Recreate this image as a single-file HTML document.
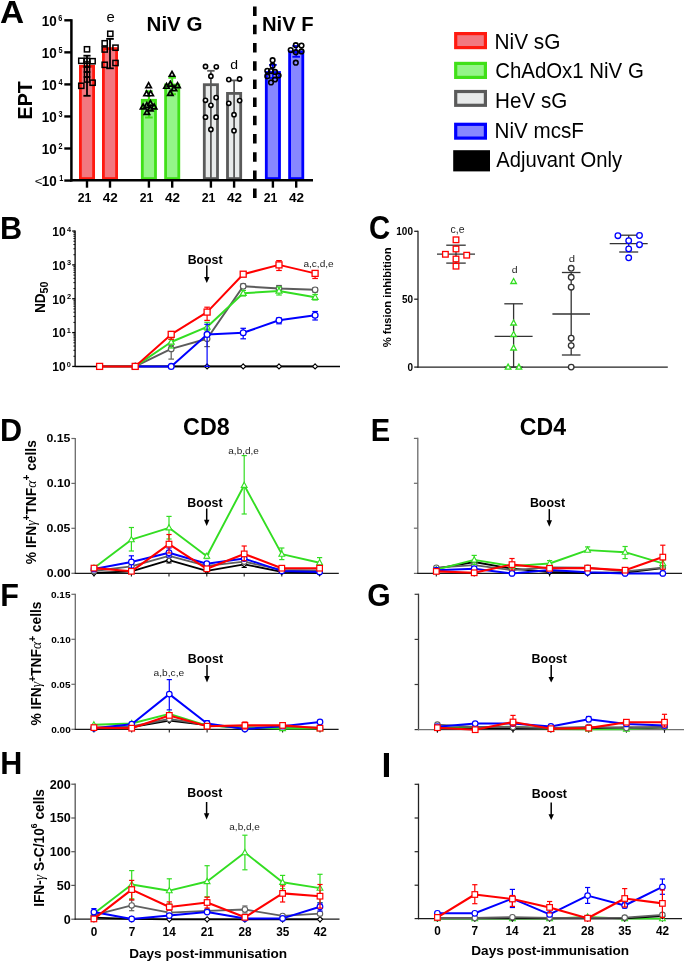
<!DOCTYPE html><html><head><meta charset="utf-8"><style>html,body{margin:0;padding:0;background:#fff;width:685px;height:962px;overflow:hidden}svg{display:block;will-change:transform}text{font-family:"Liberation Sans",sans-serif}</style></head><body>
<svg width="685" height="962" viewBox="0 0 685 962">
<rect width="685" height="962" fill="#fff"/>
<line x1="64.30" y1="20.30" x2="71.40" y2="20.30" stroke="#000" stroke-width="2.4"/>
<line x1="64.30" y1="52.35" x2="71.40" y2="52.35" stroke="#000" stroke-width="2.4"/>
<line x1="64.30" y1="84.40" x2="71.40" y2="84.40" stroke="#000" stroke-width="2.4"/>
<line x1="64.30" y1="116.45" x2="71.40" y2="116.45" stroke="#000" stroke-width="2.4"/>
<line x1="64.30" y1="148.50" x2="71.40" y2="148.50" stroke="#000" stroke-width="2.4"/>
<line x1="64.30" y1="180.55" x2="71.40" y2="180.55" stroke="#000" stroke-width="2.4"/>
<rect x="80.40" y="66.30" width="13.20" height="112.30" fill="#f27880" stroke="#ff1a10" stroke-width="2.8"/>
<rect x="103.40" y="48.60" width="13.20" height="130.00" fill="#f27880" stroke="#ff1a10" stroke-width="2.8"/>
<rect x="142.30" y="100.30" width="13.20" height="78.30" fill="#94f588" stroke="#40e018" stroke-width="2.8"/>
<rect x="165.60" y="85.00" width="13.20" height="93.60" fill="#94f588" stroke="#40e018" stroke-width="2.8"/>
<rect x="204.30" y="84.70" width="13.20" height="93.90" fill="#e8eaea" stroke="#5a5a5a" stroke-width="2.8"/>
<rect x="227.50" y="93.40" width="13.20" height="85.20" fill="#e8eaea" stroke="#5a5a5a" stroke-width="2.8"/>
<rect x="266.30" y="72.50" width="13.20" height="106.10" fill="#8787ff" stroke="#0000ff" stroke-width="2.8"/>
<rect x="289.60" y="51.80" width="13.20" height="126.80" fill="#8787ff" stroke="#0000ff" stroke-width="2.8"/>
<line x1="87.00" y1="55.70" x2="87.00" y2="95.80" stroke="#000" stroke-width="1.8"/>
<line x1="83.40" y1="55.70" x2="90.60" y2="55.70" stroke="#000" stroke-width="1.8"/>
<line x1="83.40" y1="95.80" x2="90.60" y2="95.80" stroke="#000" stroke-width="1.8"/>
<line x1="110.00" y1="38.90" x2="110.00" y2="68.30" stroke="#000" stroke-width="1.8"/>
<line x1="106.20" y1="38.90" x2="113.80" y2="38.90" stroke="#000" stroke-width="1.8"/>
<line x1="106.20" y1="68.30" x2="113.80" y2="68.30" stroke="#000" stroke-width="1.8"/>
<line x1="148.90" y1="91.30" x2="148.90" y2="117.50" stroke="#40e018" stroke-width="2.0"/>
<line x1="145.10" y1="91.30" x2="152.70" y2="91.30" stroke="#40e018" stroke-width="2.0"/>
<line x1="145.10" y1="117.50" x2="152.70" y2="117.50" stroke="#40e018" stroke-width="2.0"/>
<line x1="172.20" y1="77.70" x2="172.20" y2="94.20" stroke="#40e018" stroke-width="2.0"/>
<line x1="168.40" y1="77.70" x2="176.00" y2="77.70" stroke="#40e018" stroke-width="2.0"/>
<line x1="168.40" y1="94.20" x2="176.00" y2="94.20" stroke="#40e018" stroke-width="2.0"/>
<line x1="210.90" y1="70.80" x2="210.90" y2="180.00" stroke="#5a5a5a" stroke-width="1.8"/>
<line x1="207.20" y1="70.80" x2="214.60" y2="70.80" stroke="#5a5a5a" stroke-width="1.8"/>
<line x1="234.10" y1="80.40" x2="234.10" y2="180.00" stroke="#5a5a5a" stroke-width="1.8"/>
<line x1="230.40" y1="80.40" x2="237.80" y2="80.40" stroke="#5a5a5a" stroke-width="1.8"/>
<line x1="272.90" y1="64.90" x2="272.90" y2="78.00" stroke="#0000ff" stroke-width="1.8"/>
<line x1="269.10" y1="64.90" x2="276.70" y2="64.90" stroke="#0000ff" stroke-width="1.8"/>
<line x1="269.10" y1="78.00" x2="276.70" y2="78.00" stroke="#0000ff" stroke-width="1.8"/>
<line x1="296.20" y1="46.00" x2="296.20" y2="56.80" stroke="#0000ff" stroke-width="1.8"/>
<line x1="292.40" y1="46.00" x2="300.00" y2="46.00" stroke="#0000ff" stroke-width="1.8"/>
<line x1="292.40" y1="56.80" x2="300.00" y2="56.80" stroke="#0000ff" stroke-width="1.8"/>
<rect x="84.40" y="46.70" width="5.2" height="5.2" fill="none" stroke="#000" stroke-width="1.5"/>
<rect x="78.70" y="58.20" width="5.2" height="5.2" fill="none" stroke="#000" stroke-width="1.5"/>
<rect x="84.40" y="58.20" width="5.2" height="5.2" fill="none" stroke="#000" stroke-width="1.5"/>
<rect x="90.00" y="58.60" width="5.2" height="5.2" fill="none" stroke="#000" stroke-width="1.5"/>
<rect x="84.40" y="61.90" width="5.2" height="5.2" fill="none" stroke="#000" stroke-width="1.5"/>
<rect x="84.40" y="66.90" width="5.2" height="5.2" fill="none" stroke="#000" stroke-width="1.5"/>
<rect x="84.40" y="71.90" width="5.2" height="5.2" fill="none" stroke="#000" stroke-width="1.5"/>
<rect x="84.40" y="76.90" width="5.2" height="5.2" fill="none" stroke="#000" stroke-width="1.5"/>
<rect x="78.70" y="83.20" width="5.2" height="5.2" fill="none" stroke="#000" stroke-width="1.5"/>
<rect x="90.00" y="80.10" width="5.2" height="5.2" fill="none" stroke="#000" stroke-width="1.5"/>
<rect x="107.70" y="31.20" width="5.2" height="5.2" fill="none" stroke="#000" stroke-width="1.5"/>
<rect x="102.10" y="40.70" width="5.2" height="5.2" fill="none" stroke="#000" stroke-width="1.5"/>
<rect x="102.10" y="46.90" width="5.2" height="5.2" fill="none" stroke="#000" stroke-width="1.5"/>
<rect x="112.90" y="45.10" width="5.2" height="5.2" fill="none" stroke="#000" stroke-width="1.5"/>
<rect x="102.10" y="62.20" width="5.2" height="5.2" fill="none" stroke="#000" stroke-width="1.5"/>
<rect x="112.90" y="60.40" width="5.2" height="5.2" fill="none" stroke="#000" stroke-width="1.5"/>
<polygon points="148.60,82.68 151.30,87.54 145.90,87.54" fill="none" stroke="#000" stroke-width="1.7" stroke-linejoin="miter"/>
<polygon points="146.60,90.88 149.30,95.74 143.90,95.74" fill="none" stroke="#000" stroke-width="1.7" stroke-linejoin="miter"/>
<polygon points="150.70,90.88 153.40,95.74 148.00,95.74" fill="none" stroke="#000" stroke-width="1.7" stroke-linejoin="miter"/>
<polygon points="143.10,103.98 145.80,108.84 140.40,108.84" fill="none" stroke="#000" stroke-width="1.7" stroke-linejoin="miter"/>
<polygon points="146.90,102.58 149.60,107.44 144.20,107.44" fill="none" stroke="#000" stroke-width="1.7" stroke-linejoin="miter"/>
<polygon points="150.40,100.48 153.10,105.34 147.70,105.34" fill="none" stroke="#000" stroke-width="1.7" stroke-linejoin="miter"/>
<polygon points="154.10,103.98 156.80,108.84 151.40,108.84" fill="none" stroke="#000" stroke-width="1.7" stroke-linejoin="miter"/>
<polygon points="150.40,105.98 153.10,110.84 147.70,110.84" fill="none" stroke="#000" stroke-width="1.7" stroke-linejoin="miter"/>
<polygon points="146.90,109.48 149.60,114.34 144.20,114.34" fill="none" stroke="#000" stroke-width="1.7" stroke-linejoin="miter"/>
<polygon points="172.00,71.38 174.70,76.24 169.30,76.24" fill="none" stroke="#000" stroke-width="1.7" stroke-linejoin="miter"/>
<polygon points="166.50,83.38 169.20,88.24 163.80,88.24" fill="none" stroke="#000" stroke-width="1.7" stroke-linejoin="miter"/>
<polygon points="170.30,81.28 173.00,86.14 167.60,86.14" fill="none" stroke="#000" stroke-width="1.7" stroke-linejoin="miter"/>
<polygon points="177.50,82.68 180.20,87.54 174.80,87.54" fill="none" stroke="#000" stroke-width="1.7" stroke-linejoin="miter"/>
<polygon points="174.00,85.78 176.70,90.64 171.30,90.64" fill="none" stroke="#000" stroke-width="1.7" stroke-linejoin="miter"/>
<polygon points="170.30,90.58 173.00,95.44 167.60,95.44" fill="none" stroke="#000" stroke-width="1.7" stroke-linejoin="miter"/>
<circle cx="205.50" cy="66.50" r="2.1" fill="#fff" stroke="#000" stroke-width="1.6"/>
<circle cx="216.30" cy="66.80" r="2.1" fill="#fff" stroke="#000" stroke-width="1.6"/>
<circle cx="210.90" cy="76.20" r="2.1" fill="#fff" stroke="#000" stroke-width="1.6"/>
<circle cx="205.50" cy="100.30" r="2.1" fill="#fff" stroke="#000" stroke-width="1.6"/>
<circle cx="216.10" cy="97.60" r="2.1" fill="#fff" stroke="#000" stroke-width="1.6"/>
<circle cx="210.90" cy="105.30" r="2.1" fill="#fff" stroke="#000" stroke-width="1.6"/>
<circle cx="205.50" cy="117.20" r="2.1" fill="#fff" stroke="#000" stroke-width="1.6"/>
<circle cx="216.10" cy="117.20" r="2.1" fill="#fff" stroke="#000" stroke-width="1.6"/>
<circle cx="210.90" cy="129.50" r="2.1" fill="#fff" stroke="#000" stroke-width="1.6"/>
<circle cx="228.80" cy="79.60" r="2.1" fill="#fff" stroke="#000" stroke-width="1.6"/>
<circle cx="239.60" cy="79.00" r="2.1" fill="#fff" stroke="#000" stroke-width="1.6"/>
<circle cx="228.80" cy="103.30" r="2.1" fill="#fff" stroke="#000" stroke-width="1.6"/>
<circle cx="239.60" cy="100.60" r="2.1" fill="#fff" stroke="#000" stroke-width="1.6"/>
<circle cx="234.00" cy="114.70" r="2.1" fill="#fff" stroke="#000" stroke-width="1.6"/>
<circle cx="234.00" cy="130.70" r="2.1" fill="#fff" stroke="#000" stroke-width="1.6"/>
<circle cx="272.60" cy="60.20" r="2.3" fill="none" stroke="#000" stroke-width="1.6"/>
<circle cx="272.60" cy="65.70" r="2.3" fill="none" stroke="#000" stroke-width="1.6"/>
<circle cx="267.30" cy="70.80" r="2.3" fill="none" stroke="#000" stroke-width="1.6"/>
<circle cx="271.00" cy="71.10" r="2.3" fill="none" stroke="#000" stroke-width="1.6"/>
<circle cx="275.00" cy="71.90" r="2.3" fill="none" stroke="#000" stroke-width="1.6"/>
<circle cx="267.30" cy="76.20" r="2.3" fill="none" stroke="#000" stroke-width="1.6"/>
<circle cx="278.60" cy="75.50" r="2.3" fill="none" stroke="#000" stroke-width="1.6"/>
<circle cx="275.00" cy="79.50" r="2.3" fill="none" stroke="#000" stroke-width="1.6"/>
<circle cx="271.00" cy="82.40" r="2.3" fill="none" stroke="#000" stroke-width="1.6"/>
<circle cx="295.80" cy="45.20" r="2.3" fill="none" stroke="#000" stroke-width="1.6"/>
<circle cx="301.50" cy="45.60" r="2.3" fill="none" stroke="#000" stroke-width="1.6"/>
<circle cx="290.70" cy="50.00" r="2.3" fill="none" stroke="#000" stroke-width="1.6"/>
<circle cx="295.80" cy="52.20" r="2.3" fill="none" stroke="#000" stroke-width="1.6"/>
<circle cx="301.50" cy="51.40" r="2.3" fill="none" stroke="#000" stroke-width="1.6"/>
<circle cx="295.80" cy="62.70" r="2.3" fill="none" stroke="#000" stroke-width="1.6"/>
<line x1="71.40" y1="19.20" x2="71.40" y2="181.50" stroke="#000" stroke-width="2.5"/>
<line x1="70.20" y1="180.20" x2="313.00" y2="180.20" stroke="#000" stroke-width="2.4"/>
<line x1="87.00" y1="180.00" x2="87.00" y2="187.70" stroke="#000" stroke-width="2.4"/>
<line x1="110.00" y1="180.00" x2="110.00" y2="187.70" stroke="#000" stroke-width="2.4"/>
<line x1="148.90" y1="180.00" x2="148.90" y2="187.70" stroke="#000" stroke-width="2.4"/>
<line x1="172.20" y1="180.00" x2="172.20" y2="187.70" stroke="#000" stroke-width="2.4"/>
<line x1="210.90" y1="180.00" x2="210.90" y2="187.70" stroke="#000" stroke-width="2.4"/>
<line x1="234.10" y1="180.00" x2="234.10" y2="187.70" stroke="#000" stroke-width="2.4"/>
<line x1="272.90" y1="180.00" x2="272.90" y2="187.70" stroke="#000" stroke-width="2.4"/>
<line x1="296.20" y1="180.00" x2="296.20" y2="187.70" stroke="#000" stroke-width="2.4"/>
<line x1="254.8" y1="5" x2="254.8" y2="198" stroke="#000" stroke-width="3.6" stroke-dasharray="9.5 8.7" stroke-dashoffset="-1.6"/>
<rect x="455.70" y="33.60" width="29.70" height="14.00" fill="#f27880" stroke="#ff1a10" stroke-width="3.2"/>
<rect x="455.70" y="63.40" width="29.70" height="14.00" fill="#94f588" stroke="#40e018" stroke-width="3.2"/>
<rect x="455.70" y="91.50" width="29.70" height="13.80" fill="#e8eaea" stroke="#5a5a5a" stroke-width="3.2"/>
<rect x="455.70" y="124.30" width="29.70" height="13.80" fill="#8787ff" stroke="#0000ff" stroke-width="3.2"/>
<rect x="453.20" y="150.20" width="36.80" height="21.20" fill="#000"/>
<line x1="75.10" y1="230.40" x2="75.10" y2="367.00" stroke="#000" stroke-width="1.3"/>
<line x1="72.20" y1="231.05" x2="75.10" y2="231.05" stroke="#000" stroke-width="1.3"/>
<line x1="73.40" y1="254.71" x2="75.10" y2="254.71" stroke="#000" stroke-width="0.9"/>
<line x1="73.40" y1="248.75" x2="75.10" y2="248.75" stroke="#000" stroke-width="0.9"/>
<line x1="73.40" y1="244.52" x2="75.10" y2="244.52" stroke="#000" stroke-width="0.9"/>
<line x1="73.40" y1="241.24" x2="75.10" y2="241.24" stroke="#000" stroke-width="0.9"/>
<line x1="73.40" y1="238.56" x2="75.10" y2="238.56" stroke="#000" stroke-width="0.9"/>
<line x1="73.40" y1="236.29" x2="75.10" y2="236.29" stroke="#000" stroke-width="0.9"/>
<line x1="73.40" y1="234.33" x2="75.10" y2="234.33" stroke="#000" stroke-width="0.9"/>
<line x1="73.40" y1="232.60" x2="75.10" y2="232.60" stroke="#000" stroke-width="0.9"/>
<line x1="72.20" y1="264.90" x2="75.10" y2="264.90" stroke="#000" stroke-width="1.3"/>
<line x1="73.40" y1="288.56" x2="75.10" y2="288.56" stroke="#000" stroke-width="0.9"/>
<line x1="73.40" y1="282.60" x2="75.10" y2="282.60" stroke="#000" stroke-width="0.9"/>
<line x1="73.40" y1="278.37" x2="75.10" y2="278.37" stroke="#000" stroke-width="0.9"/>
<line x1="73.40" y1="275.09" x2="75.10" y2="275.09" stroke="#000" stroke-width="0.9"/>
<line x1="73.40" y1="272.41" x2="75.10" y2="272.41" stroke="#000" stroke-width="0.9"/>
<line x1="73.40" y1="270.14" x2="75.10" y2="270.14" stroke="#000" stroke-width="0.9"/>
<line x1="73.40" y1="268.18" x2="75.10" y2="268.18" stroke="#000" stroke-width="0.9"/>
<line x1="73.40" y1="266.45" x2="75.10" y2="266.45" stroke="#000" stroke-width="0.9"/>
<line x1="72.20" y1="298.75" x2="75.10" y2="298.75" stroke="#000" stroke-width="1.3"/>
<line x1="73.40" y1="322.41" x2="75.10" y2="322.41" stroke="#000" stroke-width="0.9"/>
<line x1="73.40" y1="316.45" x2="75.10" y2="316.45" stroke="#000" stroke-width="0.9"/>
<line x1="73.40" y1="312.22" x2="75.10" y2="312.22" stroke="#000" stroke-width="0.9"/>
<line x1="73.40" y1="308.94" x2="75.10" y2="308.94" stroke="#000" stroke-width="0.9"/>
<line x1="73.40" y1="306.26" x2="75.10" y2="306.26" stroke="#000" stroke-width="0.9"/>
<line x1="73.40" y1="303.99" x2="75.10" y2="303.99" stroke="#000" stroke-width="0.9"/>
<line x1="73.40" y1="302.03" x2="75.10" y2="302.03" stroke="#000" stroke-width="0.9"/>
<line x1="73.40" y1="300.30" x2="75.10" y2="300.30" stroke="#000" stroke-width="0.9"/>
<line x1="72.20" y1="332.60" x2="75.10" y2="332.60" stroke="#000" stroke-width="1.3"/>
<line x1="73.40" y1="356.26" x2="75.10" y2="356.26" stroke="#000" stroke-width="0.9"/>
<line x1="73.40" y1="350.30" x2="75.10" y2="350.30" stroke="#000" stroke-width="0.9"/>
<line x1="73.40" y1="346.07" x2="75.10" y2="346.07" stroke="#000" stroke-width="0.9"/>
<line x1="73.40" y1="342.79" x2="75.10" y2="342.79" stroke="#000" stroke-width="0.9"/>
<line x1="73.40" y1="340.11" x2="75.10" y2="340.11" stroke="#000" stroke-width="0.9"/>
<line x1="73.40" y1="337.84" x2="75.10" y2="337.84" stroke="#000" stroke-width="0.9"/>
<line x1="73.40" y1="335.88" x2="75.10" y2="335.88" stroke="#000" stroke-width="0.9"/>
<line x1="73.40" y1="334.15" x2="75.10" y2="334.15" stroke="#000" stroke-width="0.9"/>
<line x1="72.20" y1="366.45" x2="75.10" y2="366.45" stroke="#000" stroke-width="1.3"/>
<line x1="75.10" y1="366.40" x2="340.00" y2="366.40" stroke="#000" stroke-width="1.5"/>
<polyline points="99.60,366.40 135.20,366.40 171.20,366.40 207.10,366.40 243.20,366.40 279.00,366.40 315.10,366.40" fill="none" stroke="#000000" stroke-width="1.6" stroke-linejoin="round"/>
<polygon points="207.10,363.90 209.60,366.40 207.10,368.90 204.60,366.40" fill="#fff" stroke="#000000" stroke-width="1.1"/>
<polygon points="243.20,363.90 245.70,366.40 243.20,368.90 240.70,366.40" fill="#fff" stroke="#000000" stroke-width="1.1"/>
<polygon points="279.00,363.90 281.50,366.40 279.00,368.90 276.50,366.40" fill="#fff" stroke="#000000" stroke-width="1.1"/>
<polygon points="315.10,363.90 317.60,366.40 315.10,368.90 312.60,366.40" fill="#fff" stroke="#000000" stroke-width="1.1"/>
<polyline points="135.20,366.40 171.20,348.90 207.10,338.80 243.20,286.20 279.00,288.50 315.10,289.80" fill="none" stroke="#5c5c5c" stroke-width="2.0" stroke-linejoin="round"/>
<line x1="171.20" y1="345.30" x2="171.20" y2="359.10" stroke="#5c5c5c" stroke-width="1.2"/>
<line x1="168.40" y1="345.30" x2="174.00" y2="345.30" stroke="#5c5c5c" stroke-width="1.2"/>
<line x1="168.40" y1="359.10" x2="174.00" y2="359.10" stroke="#5c5c5c" stroke-width="1.2"/>
<line x1="207.10" y1="335.00" x2="207.10" y2="346.60" stroke="#5c5c5c" stroke-width="1.2"/>
<line x1="204.30" y1="335.00" x2="209.90" y2="335.00" stroke="#5c5c5c" stroke-width="1.2"/>
<line x1="204.30" y1="346.60" x2="209.90" y2="346.60" stroke="#5c5c5c" stroke-width="1.2"/>
<line x1="243.20" y1="284.00" x2="243.20" y2="288.50" stroke="#5c5c5c" stroke-width="1.2"/>
<line x1="240.40" y1="284.00" x2="246.00" y2="284.00" stroke="#5c5c5c" stroke-width="1.2"/>
<line x1="240.40" y1="288.50" x2="246.00" y2="288.50" stroke="#5c5c5c" stroke-width="1.2"/>
<line x1="279.00" y1="285.50" x2="279.00" y2="291.00" stroke="#5c5c5c" stroke-width="1.2"/>
<line x1="276.20" y1="285.50" x2="281.80" y2="285.50" stroke="#5c5c5c" stroke-width="1.2"/>
<line x1="276.20" y1="291.00" x2="281.80" y2="291.00" stroke="#5c5c5c" stroke-width="1.2"/>
<line x1="315.10" y1="288.00" x2="315.10" y2="292.00" stroke="#5c5c5c" stroke-width="1.2"/>
<line x1="312.30" y1="288.00" x2="317.90" y2="288.00" stroke="#5c5c5c" stroke-width="1.2"/>
<line x1="312.30" y1="292.00" x2="317.90" y2="292.00" stroke="#5c5c5c" stroke-width="1.2"/>
<circle cx="135.20" cy="366.40" r="2.8" fill="#fff" stroke="#5c5c5c" stroke-width="1.2"/>
<circle cx="171.20" cy="348.90" r="2.8" fill="#fff" stroke="#5c5c5c" stroke-width="1.2"/>
<circle cx="207.10" cy="338.80" r="2.8" fill="#fff" stroke="#5c5c5c" stroke-width="1.2"/>
<circle cx="243.20" cy="286.20" r="2.8" fill="#fff" stroke="#5c5c5c" stroke-width="1.2"/>
<circle cx="279.00" cy="288.50" r="2.8" fill="#fff" stroke="#5c5c5c" stroke-width="1.2"/>
<circle cx="315.10" cy="289.80" r="2.8" fill="#fff" stroke="#5c5c5c" stroke-width="1.2"/>
<polyline points="135.20,366.40 171.20,342.00 207.10,326.90 243.20,293.30 279.00,291.00 315.10,297.30" fill="none" stroke="#33dd22" stroke-width="2.0" stroke-linejoin="round"/>
<line x1="171.20" y1="339.40" x2="171.20" y2="348.00" stroke="#33dd22" stroke-width="1.2"/>
<line x1="168.40" y1="339.40" x2="174.00" y2="339.40" stroke="#33dd22" stroke-width="1.2"/>
<line x1="168.40" y1="348.00" x2="174.00" y2="348.00" stroke="#33dd22" stroke-width="1.2"/>
<line x1="207.10" y1="322.30" x2="207.10" y2="330.20" stroke="#33dd22" stroke-width="1.2"/>
<line x1="204.30" y1="322.30" x2="209.90" y2="322.30" stroke="#33dd22" stroke-width="1.2"/>
<line x1="204.30" y1="330.20" x2="209.90" y2="330.20" stroke="#33dd22" stroke-width="1.2"/>
<line x1="243.20" y1="290.50" x2="243.20" y2="296.00" stroke="#33dd22" stroke-width="1.2"/>
<line x1="240.40" y1="290.50" x2="246.00" y2="290.50" stroke="#33dd22" stroke-width="1.2"/>
<line x1="240.40" y1="296.00" x2="246.00" y2="296.00" stroke="#33dd22" stroke-width="1.2"/>
<line x1="279.00" y1="287.00" x2="279.00" y2="295.00" stroke="#33dd22" stroke-width="1.2"/>
<line x1="276.20" y1="287.00" x2="281.80" y2="287.00" stroke="#33dd22" stroke-width="1.2"/>
<line x1="276.20" y1="295.00" x2="281.80" y2="295.00" stroke="#33dd22" stroke-width="1.2"/>
<line x1="315.10" y1="294.50" x2="315.10" y2="300.00" stroke="#33dd22" stroke-width="1.2"/>
<line x1="312.30" y1="294.50" x2="317.90" y2="294.50" stroke="#33dd22" stroke-width="1.2"/>
<line x1="312.30" y1="300.00" x2="317.90" y2="300.00" stroke="#33dd22" stroke-width="1.2"/>
<polygon points="135.20,363.16 138.20,368.56 132.20,368.56" fill="#fff" stroke="#33dd22" stroke-width="1.2" stroke-linejoin="miter"/>
<polygon points="171.20,338.76 174.20,344.16 168.20,344.16" fill="#fff" stroke="#33dd22" stroke-width="1.2" stroke-linejoin="miter"/>
<polygon points="207.10,323.66 210.10,329.06 204.10,329.06" fill="#fff" stroke="#33dd22" stroke-width="1.2" stroke-linejoin="miter"/>
<polygon points="243.20,290.06 246.20,295.46 240.20,295.46" fill="#fff" stroke="#33dd22" stroke-width="1.2" stroke-linejoin="miter"/>
<polygon points="279.00,287.76 282.00,293.16 276.00,293.16" fill="#fff" stroke="#33dd22" stroke-width="1.2" stroke-linejoin="miter"/>
<polygon points="315.10,294.06 318.10,299.46 312.10,299.46" fill="#fff" stroke="#33dd22" stroke-width="1.2" stroke-linejoin="miter"/>
<polyline points="135.20,366.40 171.20,366.40 207.10,334.40 243.20,332.80 279.00,320.30 315.10,315.20" fill="none" stroke="#0000ff" stroke-width="2.0" stroke-linejoin="round"/>
<line x1="207.10" y1="324.30" x2="207.10" y2="366.40" stroke="#0000ff" stroke-width="1.2"/>
<line x1="204.30" y1="324.30" x2="209.90" y2="324.30" stroke="#0000ff" stroke-width="1.2"/>
<line x1="204.30" y1="366.40" x2="209.90" y2="366.40" stroke="#0000ff" stroke-width="1.2"/>
<line x1="243.20" y1="328.30" x2="243.20" y2="338.80" stroke="#0000ff" stroke-width="1.2"/>
<line x1="240.40" y1="328.30" x2="246.00" y2="328.30" stroke="#0000ff" stroke-width="1.2"/>
<line x1="240.40" y1="338.80" x2="246.00" y2="338.80" stroke="#0000ff" stroke-width="1.2"/>
<line x1="279.00" y1="317.90" x2="279.00" y2="323.80" stroke="#0000ff" stroke-width="1.2"/>
<line x1="276.20" y1="317.90" x2="281.80" y2="317.90" stroke="#0000ff" stroke-width="1.2"/>
<line x1="276.20" y1="323.80" x2="281.80" y2="323.80" stroke="#0000ff" stroke-width="1.2"/>
<line x1="315.10" y1="311.50" x2="315.10" y2="320.00" stroke="#0000ff" stroke-width="1.2"/>
<line x1="312.30" y1="311.50" x2="317.90" y2="311.50" stroke="#0000ff" stroke-width="1.2"/>
<line x1="312.30" y1="320.00" x2="317.90" y2="320.00" stroke="#0000ff" stroke-width="1.2"/>
<circle cx="135.20" cy="366.40" r="2.9" fill="#fff" stroke="#0000ff" stroke-width="1.3"/>
<circle cx="171.20" cy="366.40" r="2.9" fill="#fff" stroke="#0000ff" stroke-width="1.3"/>
<circle cx="207.10" cy="334.40" r="2.9" fill="#fff" stroke="#0000ff" stroke-width="1.3"/>
<circle cx="243.20" cy="332.80" r="2.9" fill="#fff" stroke="#0000ff" stroke-width="1.3"/>
<circle cx="279.00" cy="320.30" r="2.9" fill="#fff" stroke="#0000ff" stroke-width="1.3"/>
<circle cx="315.10" cy="315.20" r="2.9" fill="#fff" stroke="#0000ff" stroke-width="1.3"/>
<polyline points="99.60,366.40 135.20,366.40 171.20,334.40 207.10,312.10 243.20,274.20 279.00,264.90 315.10,273.40" fill="none" stroke="#ff0000" stroke-width="2.0" stroke-linejoin="round"/>
<line x1="171.20" y1="331.50" x2="171.20" y2="339.20" stroke="#ff0000" stroke-width="1.2"/>
<line x1="168.40" y1="331.50" x2="174.00" y2="331.50" stroke="#ff0000" stroke-width="1.2"/>
<line x1="168.40" y1="339.20" x2="174.00" y2="339.20" stroke="#ff0000" stroke-width="1.2"/>
<line x1="207.10" y1="307.20" x2="207.10" y2="320.40" stroke="#ff0000" stroke-width="1.2"/>
<line x1="204.30" y1="307.20" x2="209.90" y2="307.20" stroke="#ff0000" stroke-width="1.2"/>
<line x1="204.30" y1="320.40" x2="209.90" y2="320.40" stroke="#ff0000" stroke-width="1.2"/>
<line x1="243.20" y1="272.00" x2="243.20" y2="276.50" stroke="#ff0000" stroke-width="1.2"/>
<line x1="240.40" y1="272.00" x2="246.00" y2="272.00" stroke="#ff0000" stroke-width="1.2"/>
<line x1="240.40" y1="276.50" x2="246.00" y2="276.50" stroke="#ff0000" stroke-width="1.2"/>
<line x1="279.00" y1="260.60" x2="279.00" y2="270.50" stroke="#ff0000" stroke-width="1.2"/>
<line x1="276.20" y1="260.60" x2="281.80" y2="260.60" stroke="#ff0000" stroke-width="1.2"/>
<line x1="276.20" y1="270.50" x2="281.80" y2="270.50" stroke="#ff0000" stroke-width="1.2"/>
<line x1="315.10" y1="271.50" x2="315.10" y2="278.50" stroke="#ff0000" stroke-width="1.2"/>
<line x1="312.30" y1="271.50" x2="317.90" y2="271.50" stroke="#ff0000" stroke-width="1.2"/>
<line x1="312.30" y1="278.50" x2="317.90" y2="278.50" stroke="#ff0000" stroke-width="1.2"/>
<rect x="96.60" y="363.40" width="6" height="6" fill="#fff" stroke="#ff0000" stroke-width="1.3"/>
<rect x="132.20" y="363.40" width="6" height="6" fill="#fff" stroke="#ff0000" stroke-width="1.3"/>
<rect x="168.20" y="331.40" width="6" height="6" fill="#fff" stroke="#ff0000" stroke-width="1.3"/>
<rect x="204.10" y="309.10" width="6" height="6" fill="#fff" stroke="#ff0000" stroke-width="1.3"/>
<rect x="240.20" y="271.20" width="6" height="6" fill="#fff" stroke="#ff0000" stroke-width="1.3"/>
<rect x="276.00" y="261.90" width="6" height="6" fill="#fff" stroke="#ff0000" stroke-width="1.3"/>
<rect x="312.10" y="270.40" width="6" height="6" fill="#fff" stroke="#ff0000" stroke-width="1.3"/>
<line x1="206.80" y1="265.40" x2="206.80" y2="278.00" stroke="#000" stroke-width="1.5"/>
<polygon points="204.10,277.00 209.50,277.00 206.80,283.10" fill="#000"/>
<line x1="418.00" y1="230.70" x2="418.00" y2="367.70" stroke="#222" stroke-width="1.3"/>
<line x1="417.40" y1="367.10" x2="667.80" y2="367.10" stroke="#222" stroke-width="1.3"/>
<line x1="414.20" y1="231.30" x2="418.00" y2="231.30" stroke="#222" stroke-width="1.3"/>
<line x1="414.20" y1="299.20" x2="418.00" y2="299.20" stroke="#222" stroke-width="1.3"/>
<line x1="414.20" y1="367.10" x2="418.00" y2="367.10" stroke="#222" stroke-width="1.3"/>
<line x1="437.00" y1="254.10" x2="475.00" y2="254.10" stroke="#333" stroke-width="1.3"/>
<line x1="446.25" y1="245.20" x2="465.75" y2="245.20" stroke="#333" stroke-width="1.3"/>
<line x1="446.25" y1="263.10" x2="465.75" y2="263.10" stroke="#333" stroke-width="1.3"/>
<line x1="456.00" y1="245.20" x2="456.00" y2="263.10" stroke="#333" stroke-width="1.3"/>
<rect x="453.20" y="237.00" width="5.6" height="5.6" fill="#fff" stroke="#ff0000" stroke-width="1.3"/>
<rect x="453.20" y="246.20" width="5.6" height="5.6" fill="#fff" stroke="#ff0000" stroke-width="1.3"/>
<rect x="442.60" y="251.50" width="5.6" height="5.6" fill="#fff" stroke="#ff0000" stroke-width="1.3"/>
<rect x="463.90" y="252.40" width="5.6" height="5.6" fill="#fff" stroke="#ff0000" stroke-width="1.3"/>
<rect x="453.20" y="256.20" width="5.6" height="5.6" fill="#fff" stroke="#ff0000" stroke-width="1.3"/>
<rect x="453.20" y="263.40" width="5.6" height="5.6" fill="#fff" stroke="#ff0000" stroke-width="1.3"/>
<line x1="494.60" y1="336.40" x2="532.60" y2="336.40" stroke="#333" stroke-width="1.3"/>
<line x1="504.30" y1="303.80" x2="522.90" y2="303.80" stroke="#333" stroke-width="1.3"/>
<line x1="504.30" y1="367.10" x2="522.90" y2="367.10" stroke="#333" stroke-width="1.3"/>
<line x1="513.60" y1="303.80" x2="513.60" y2="367.10" stroke="#333" stroke-width="1.3"/>
<polygon points="513.60,278.48 516.40,283.52 510.80,283.52" fill="#fff" stroke="#33dd22" stroke-width="1.3" stroke-linejoin="miter"/>
<polygon points="513.60,319.98 516.40,325.02 510.80,325.02" fill="#fff" stroke="#33dd22" stroke-width="1.3" stroke-linejoin="miter"/>
<polygon points="513.60,331.48 516.40,336.52 510.80,336.52" fill="#fff" stroke="#33dd22" stroke-width="1.3" stroke-linejoin="miter"/>
<polygon points="513.60,344.98 516.40,350.02 510.80,350.02" fill="#fff" stroke="#33dd22" stroke-width="1.3" stroke-linejoin="miter"/>
<polygon points="508.10,364.08 510.90,369.12 505.30,369.12" fill="#fff" stroke="#33dd22" stroke-width="1.3" stroke-linejoin="miter"/>
<polygon points="518.90,364.08 521.70,369.12 516.10,369.12" fill="#fff" stroke="#33dd22" stroke-width="1.3" stroke-linejoin="miter"/>
<line x1="552.40" y1="314.00" x2="590.00" y2="314.00" stroke="#333" stroke-width="1.3"/>
<line x1="561.90" y1="272.50" x2="580.50" y2="272.50" stroke="#333" stroke-width="1.3"/>
<line x1="561.90" y1="355.00" x2="580.50" y2="355.00" stroke="#333" stroke-width="1.3"/>
<line x1="571.20" y1="272.50" x2="571.20" y2="355.00" stroke="#333" stroke-width="1.3"/>
<circle cx="571.20" cy="268.30" r="2.8" fill="#fff" stroke="#333" stroke-width="1.3"/>
<circle cx="571.20" cy="277.30" r="2.8" fill="#fff" stroke="#333" stroke-width="1.3"/>
<circle cx="571.20" cy="287.20" r="2.8" fill="#fff" stroke="#333" stroke-width="1.3"/>
<circle cx="571.20" cy="338.20" r="2.8" fill="#fff" stroke="#333" stroke-width="1.3"/>
<circle cx="571.20" cy="345.60" r="2.8" fill="#fff" stroke="#333" stroke-width="1.3"/>
<circle cx="571.20" cy="367.10" r="2.8" fill="#fff" stroke="#333" stroke-width="1.3"/>
<line x1="609.70" y1="243.60" x2="647.70" y2="243.60" stroke="#333" stroke-width="1.3"/>
<line x1="619.20" y1="235.20" x2="638.20" y2="235.20" stroke="#333" stroke-width="1.3"/>
<line x1="619.20" y1="252.00" x2="638.20" y2="252.00" stroke="#333" stroke-width="1.3"/>
<line x1="628.70" y1="235.20" x2="628.70" y2="252.00" stroke="#333" stroke-width="1.3"/>
<circle cx="617.90" cy="235.70" r="2.8" fill="#fff" stroke="#0000ff" stroke-width="1.3"/>
<circle cx="639.50" cy="235.50" r="2.8" fill="#fff" stroke="#0000ff" stroke-width="1.3"/>
<circle cx="628.70" cy="240.70" r="2.8" fill="#fff" stroke="#0000ff" stroke-width="1.3"/>
<circle cx="639.50" cy="244.70" r="2.8" fill="#fff" stroke="#0000ff" stroke-width="1.3"/>
<circle cx="628.70" cy="248.90" r="2.8" fill="#fff" stroke="#0000ff" stroke-width="1.3"/>
<circle cx="628.70" cy="257.80" r="2.8" fill="#fff" stroke="#0000ff" stroke-width="1.3"/>
<line x1="75.30" y1="437.90" x2="75.30" y2="573.90" stroke="#6a6a6a" stroke-width="1.3"/>
<line x1="71.40" y1="438.50" x2="75.30" y2="438.50" stroke="#6a6a6a" stroke-width="1.2"/>
<line x1="71.40" y1="483.40" x2="75.30" y2="483.40" stroke="#6a6a6a" stroke-width="1.2"/>
<line x1="71.40" y1="528.30" x2="75.30" y2="528.30" stroke="#6a6a6a" stroke-width="1.2"/>
<line x1="71.40" y1="573.30" x2="75.30" y2="573.30" stroke="#6a6a6a" stroke-width="1.2"/>
<line x1="74.70" y1="573.30" x2="338.80" y2="573.30" stroke="#1a1a1a" stroke-width="1.3"/>
<line x1="94.00" y1="573.30" x2="94.00" y2="576.50" stroke="#1a1a1a" stroke-width="1.1"/>
<line x1="131.40" y1="573.30" x2="131.40" y2="576.50" stroke="#1a1a1a" stroke-width="1.1"/>
<line x1="169.00" y1="573.30" x2="169.00" y2="576.50" stroke="#1a1a1a" stroke-width="1.1"/>
<line x1="206.80" y1="573.30" x2="206.80" y2="576.50" stroke="#1a1a1a" stroke-width="1.1"/>
<line x1="244.20" y1="573.30" x2="244.20" y2="576.50" stroke="#1a1a1a" stroke-width="1.1"/>
<line x1="281.80" y1="573.30" x2="281.80" y2="576.50" stroke="#1a1a1a" stroke-width="1.1"/>
<line x1="319.60" y1="573.30" x2="319.60" y2="576.50" stroke="#1a1a1a" stroke-width="1.1"/>
<polyline points="94.00,573.00 131.40,571.30 169.00,560.20 206.80,570.90 244.20,564.30 281.80,571.90 319.60,572.90" fill="none" stroke="#000000" stroke-width="1.8" stroke-linejoin="round"/>
<line x1="169.00" y1="556.70" x2="169.00" y2="562.90" stroke="#000000" stroke-width="1.2"/>
<line x1="166.40" y1="556.70" x2="171.60" y2="556.70" stroke="#000000" stroke-width="1.2"/>
<line x1="166.40" y1="562.90" x2="171.60" y2="562.90" stroke="#000000" stroke-width="1.2"/>
<line x1="244.20" y1="562.30" x2="244.20" y2="567.40" stroke="#000000" stroke-width="1.2"/>
<line x1="241.60" y1="562.30" x2="246.80" y2="562.30" stroke="#000000" stroke-width="1.2"/>
<line x1="241.60" y1="567.40" x2="246.80" y2="567.40" stroke="#000000" stroke-width="1.2"/>
<polygon points="94.00,570.40 96.60,573.00 94.00,575.60 91.40,573.00" fill="#fff" stroke="#000000" stroke-width="1.1"/>
<polygon points="131.40,568.70 134.00,571.30 131.40,573.90 128.80,571.30" fill="#fff" stroke="#000000" stroke-width="1.1"/>
<polygon points="169.00,557.60 171.60,560.20 169.00,562.80 166.40,560.20" fill="#fff" stroke="#000000" stroke-width="1.1"/>
<polygon points="206.80,568.30 209.40,570.90 206.80,573.50 204.20,570.90" fill="#fff" stroke="#000000" stroke-width="1.1"/>
<polygon points="244.20,561.70 246.80,564.30 244.20,566.90 241.60,564.30" fill="#fff" stroke="#000000" stroke-width="1.1"/>
<polygon points="281.80,569.30 284.40,571.90 281.80,574.50 279.20,571.90" fill="#fff" stroke="#000000" stroke-width="1.1"/>
<polygon points="319.60,570.30 322.20,572.90 319.60,575.50 317.00,572.90" fill="#fff" stroke="#000000" stroke-width="1.1"/>
<polyline points="94.00,571.00 131.40,566.40 169.00,555.80 206.80,565.80 244.20,561.70 281.80,569.90 319.60,570.50" fill="none" stroke="#606060" stroke-width="1.8" stroke-linejoin="round"/>
<circle cx="94.00" cy="571.00" r="2.7" fill="#fff" stroke="#606060" stroke-width="1.1"/>
<circle cx="131.40" cy="566.40" r="2.7" fill="#fff" stroke="#606060" stroke-width="1.1"/>
<circle cx="169.00" cy="555.80" r="2.7" fill="#fff" stroke="#606060" stroke-width="1.1"/>
<circle cx="206.80" cy="565.80" r="2.7" fill="#fff" stroke="#606060" stroke-width="1.1"/>
<circle cx="244.20" cy="561.70" r="2.7" fill="#fff" stroke="#606060" stroke-width="1.1"/>
<circle cx="281.80" cy="569.90" r="2.7" fill="#fff" stroke="#606060" stroke-width="1.1"/>
<circle cx="319.60" cy="570.50" r="2.7" fill="#fff" stroke="#606060" stroke-width="1.1"/>
<polyline points="94.00,568.10 131.40,539.70 169.00,527.80 206.80,556.20 244.20,485.30 281.80,554.10 319.60,562.70" fill="none" stroke="#33dd22" stroke-width="1.9" stroke-linejoin="round"/>
<line x1="131.40" y1="527.50" x2="131.40" y2="551.00" stroke="#33dd22" stroke-width="1.2"/>
<line x1="128.80" y1="527.50" x2="134.00" y2="527.50" stroke="#33dd22" stroke-width="1.2"/>
<line x1="128.80" y1="551.00" x2="134.00" y2="551.00" stroke="#33dd22" stroke-width="1.2"/>
<line x1="169.00" y1="516.40" x2="169.00" y2="539.00" stroke="#33dd22" stroke-width="1.2"/>
<line x1="166.40" y1="516.40" x2="171.60" y2="516.40" stroke="#33dd22" stroke-width="1.2"/>
<line x1="166.40" y1="539.00" x2="171.60" y2="539.00" stroke="#33dd22" stroke-width="1.2"/>
<line x1="206.80" y1="554.10" x2="206.80" y2="558.60" stroke="#33dd22" stroke-width="1.2"/>
<line x1="204.20" y1="554.10" x2="209.40" y2="554.10" stroke="#33dd22" stroke-width="1.2"/>
<line x1="204.20" y1="558.60" x2="209.40" y2="558.60" stroke="#33dd22" stroke-width="1.2"/>
<line x1="244.20" y1="455.60" x2="244.20" y2="514.00" stroke="#33dd22" stroke-width="1.2"/>
<line x1="241.60" y1="455.60" x2="246.80" y2="455.60" stroke="#33dd22" stroke-width="1.2"/>
<line x1="241.60" y1="514.00" x2="246.80" y2="514.00" stroke="#33dd22" stroke-width="1.2"/>
<line x1="281.80" y1="548.00" x2="281.80" y2="559.60" stroke="#33dd22" stroke-width="1.2"/>
<line x1="279.20" y1="548.00" x2="284.40" y2="548.00" stroke="#33dd22" stroke-width="1.2"/>
<line x1="279.20" y1="559.60" x2="284.40" y2="559.60" stroke="#33dd22" stroke-width="1.2"/>
<line x1="319.60" y1="557.60" x2="319.60" y2="565.80" stroke="#33dd22" stroke-width="1.2"/>
<line x1="317.00" y1="557.60" x2="322.20" y2="557.60" stroke="#33dd22" stroke-width="1.2"/>
<line x1="317.00" y1="565.80" x2="322.20" y2="565.80" stroke="#33dd22" stroke-width="1.2"/>
<polygon points="94.00,564.97 96.90,570.19 91.10,570.19" fill="#fff" stroke="#33dd22" stroke-width="1.1" stroke-linejoin="miter"/>
<polygon points="131.40,536.57 134.30,541.79 128.50,541.79" fill="#fff" stroke="#33dd22" stroke-width="1.1" stroke-linejoin="miter"/>
<polygon points="169.00,524.67 171.90,529.89 166.10,529.89" fill="#fff" stroke="#33dd22" stroke-width="1.1" stroke-linejoin="miter"/>
<polygon points="206.80,553.07 209.70,558.29 203.90,558.29" fill="#fff" stroke="#33dd22" stroke-width="1.1" stroke-linejoin="miter"/>
<polygon points="244.20,482.17 247.10,487.39 241.30,487.39" fill="#fff" stroke="#33dd22" stroke-width="1.1" stroke-linejoin="miter"/>
<polygon points="281.80,550.97 284.70,556.19 278.90,556.19" fill="#fff" stroke="#33dd22" stroke-width="1.1" stroke-linejoin="miter"/>
<polygon points="319.60,559.57 322.50,564.79 316.70,564.79" fill="#fff" stroke="#33dd22" stroke-width="1.1" stroke-linejoin="miter"/>
<polyline points="94.00,569.00 131.40,562.00 169.00,552.70 206.80,563.70 244.20,558.60 281.80,570.90 319.60,571.90" fill="none" stroke="#0000ff" stroke-width="2.0" stroke-linejoin="round"/>
<line x1="131.40" y1="555.80" x2="131.40" y2="568.00" stroke="#0000ff" stroke-width="1.2"/>
<line x1="128.80" y1="555.80" x2="134.00" y2="555.80" stroke="#0000ff" stroke-width="1.2"/>
<line x1="128.80" y1="568.00" x2="134.00" y2="568.00" stroke="#0000ff" stroke-width="1.2"/>
<line x1="169.00" y1="548.00" x2="169.00" y2="557.00" stroke="#0000ff" stroke-width="1.2"/>
<line x1="166.40" y1="548.00" x2="171.60" y2="548.00" stroke="#0000ff" stroke-width="1.2"/>
<line x1="166.40" y1="557.00" x2="171.60" y2="557.00" stroke="#0000ff" stroke-width="1.2"/>
<circle cx="94.00" cy="569.00" r="2.8" fill="#fff" stroke="#0000ff" stroke-width="1.2"/>
<circle cx="131.40" cy="562.00" r="2.8" fill="#fff" stroke="#0000ff" stroke-width="1.2"/>
<circle cx="169.00" cy="552.70" r="2.8" fill="#fff" stroke="#0000ff" stroke-width="1.2"/>
<circle cx="206.80" cy="563.70" r="2.8" fill="#fff" stroke="#0000ff" stroke-width="1.2"/>
<circle cx="244.20" cy="558.60" r="2.8" fill="#fff" stroke="#0000ff" stroke-width="1.2"/>
<circle cx="281.80" cy="570.90" r="2.8" fill="#fff" stroke="#0000ff" stroke-width="1.2"/>
<circle cx="319.60" cy="571.90" r="2.8" fill="#fff" stroke="#0000ff" stroke-width="1.2"/>
<polyline points="94.00,568.10 131.40,571.30 169.00,544.10 206.80,568.80 244.20,553.90 281.80,568.20 319.60,568.20" fill="none" stroke="#ff0000" stroke-width="2.1" stroke-linejoin="round"/>
<line x1="169.00" y1="534.50" x2="169.00" y2="553.00" stroke="#ff0000" stroke-width="1.2"/>
<line x1="166.40" y1="534.50" x2="171.60" y2="534.50" stroke="#ff0000" stroke-width="1.2"/>
<line x1="166.40" y1="553.00" x2="171.60" y2="553.00" stroke="#ff0000" stroke-width="1.2"/>
<line x1="244.20" y1="546.00" x2="244.20" y2="560.70" stroke="#ff0000" stroke-width="1.2"/>
<line x1="241.60" y1="546.00" x2="246.80" y2="546.00" stroke="#ff0000" stroke-width="1.2"/>
<line x1="241.60" y1="560.70" x2="246.80" y2="560.70" stroke="#ff0000" stroke-width="1.2"/>
<rect x="91.20" y="565.30" width="5.6" height="5.6" fill="#fff" stroke="#ff0000" stroke-width="1.2"/>
<rect x="128.60" y="568.50" width="5.6" height="5.6" fill="#fff" stroke="#ff0000" stroke-width="1.2"/>
<rect x="166.20" y="541.30" width="5.6" height="5.6" fill="#fff" stroke="#ff0000" stroke-width="1.2"/>
<rect x="204.00" y="566.00" width="5.6" height="5.6" fill="#fff" stroke="#ff0000" stroke-width="1.2"/>
<rect x="241.40" y="551.10" width="5.6" height="5.6" fill="#fff" stroke="#ff0000" stroke-width="1.2"/>
<rect x="279.00" y="565.40" width="5.6" height="5.6" fill="#fff" stroke="#ff0000" stroke-width="1.2"/>
<rect x="316.80" y="565.40" width="5.6" height="5.6" fill="#fff" stroke="#ff0000" stroke-width="1.2"/>
<line x1="206.70" y1="508.50" x2="206.70" y2="520.70" stroke="#000" stroke-width="1.5"/>
<polygon points="204.00,519.70 209.40,519.70 206.70,526.10" fill="#000"/>
<line x1="417.80" y1="437.80" x2="417.80" y2="574.00" stroke="#6a6a6a" stroke-width="1.3"/>
<line x1="413.90" y1="438.40" x2="417.80" y2="438.40" stroke="#6a6a6a" stroke-width="1.2"/>
<line x1="413.90" y1="483.30" x2="417.80" y2="483.30" stroke="#6a6a6a" stroke-width="1.2"/>
<line x1="413.90" y1="528.20" x2="417.80" y2="528.20" stroke="#6a6a6a" stroke-width="1.2"/>
<line x1="413.90" y1="573.40" x2="417.80" y2="573.40" stroke="#6a6a6a" stroke-width="1.2"/>
<line x1="417.20" y1="573.40" x2="682.00" y2="573.40" stroke="#1a1a1a" stroke-width="1.3"/>
<line x1="436.30" y1="573.40" x2="436.30" y2="576.60" stroke="#1a1a1a" stroke-width="1.1"/>
<line x1="474.20" y1="573.40" x2="474.20" y2="576.60" stroke="#1a1a1a" stroke-width="1.1"/>
<line x1="512.00" y1="573.40" x2="512.00" y2="576.60" stroke="#1a1a1a" stroke-width="1.1"/>
<line x1="549.60" y1="573.40" x2="549.60" y2="576.60" stroke="#1a1a1a" stroke-width="1.1"/>
<line x1="587.60" y1="573.40" x2="587.60" y2="576.60" stroke="#1a1a1a" stroke-width="1.1"/>
<line x1="625.10" y1="573.40" x2="625.10" y2="576.60" stroke="#1a1a1a" stroke-width="1.1"/>
<line x1="662.80" y1="573.40" x2="662.80" y2="576.60" stroke="#1a1a1a" stroke-width="1.1"/>
<polyline points="436.30,568.70 474.20,562.00 512.00,568.70 549.60,572.00 587.60,573.00 625.10,572.50 662.80,568.10" fill="none" stroke="#000000" stroke-width="1.8" stroke-linejoin="round"/>
<polygon points="436.30,566.10 438.90,568.70 436.30,571.30 433.70,568.70" fill="#fff" stroke="#000000" stroke-width="1.1"/>
<polygon points="474.20,559.40 476.80,562.00 474.20,564.60 471.60,562.00" fill="#fff" stroke="#000000" stroke-width="1.1"/>
<polygon points="512.00,566.10 514.60,568.70 512.00,571.30 509.40,568.70" fill="#fff" stroke="#000000" stroke-width="1.1"/>
<polygon points="549.60,569.40 552.20,572.00 549.60,574.60 547.00,572.00" fill="#fff" stroke="#000000" stroke-width="1.1"/>
<polygon points="587.60,570.40 590.20,573.00 587.60,575.60 585.00,573.00" fill="#fff" stroke="#000000" stroke-width="1.1"/>
<polygon points="625.10,569.90 627.70,572.50 625.10,575.10 622.50,572.50" fill="#fff" stroke="#000000" stroke-width="1.1"/>
<polygon points="662.80,565.50 665.40,568.10 662.80,570.70 660.20,568.10" fill="#fff" stroke="#000000" stroke-width="1.1"/>
<polyline points="436.30,567.70 474.20,565.20 512.00,570.20 549.60,567.30 587.60,567.70 625.10,571.30 662.80,567.70" fill="none" stroke="#606060" stroke-width="1.8" stroke-linejoin="round"/>
<circle cx="436.30" cy="567.70" r="2.7" fill="#fff" stroke="#606060" stroke-width="1.1"/>
<circle cx="474.20" cy="565.20" r="2.7" fill="#fff" stroke="#606060" stroke-width="1.1"/>
<circle cx="512.00" cy="570.20" r="2.7" fill="#fff" stroke="#606060" stroke-width="1.1"/>
<circle cx="549.60" cy="567.30" r="2.7" fill="#fff" stroke="#606060" stroke-width="1.1"/>
<circle cx="587.60" cy="567.70" r="2.7" fill="#fff" stroke="#606060" stroke-width="1.1"/>
<circle cx="625.10" cy="571.30" r="2.7" fill="#fff" stroke="#606060" stroke-width="1.1"/>
<circle cx="662.80" cy="567.70" r="2.7" fill="#fff" stroke="#606060" stroke-width="1.1"/>
<polyline points="436.30,569.70 474.20,559.90 512.00,566.10 549.60,563.50 587.60,550.10 625.10,552.20 662.80,563.40" fill="none" stroke="#33dd22" stroke-width="1.9" stroke-linejoin="round"/>
<line x1="474.20" y1="555.40" x2="474.20" y2="564.50" stroke="#33dd22" stroke-width="1.2"/>
<line x1="471.60" y1="555.40" x2="476.80" y2="555.40" stroke="#33dd22" stroke-width="1.2"/>
<line x1="471.60" y1="564.50" x2="476.80" y2="564.50" stroke="#33dd22" stroke-width="1.2"/>
<line x1="549.60" y1="560.60" x2="549.60" y2="566.50" stroke="#33dd22" stroke-width="1.2"/>
<line x1="547.00" y1="560.60" x2="552.20" y2="560.60" stroke="#33dd22" stroke-width="1.2"/>
<line x1="547.00" y1="566.50" x2="552.20" y2="566.50" stroke="#33dd22" stroke-width="1.2"/>
<line x1="587.60" y1="546.90" x2="587.60" y2="551.20" stroke="#33dd22" stroke-width="1.2"/>
<line x1="585.00" y1="546.90" x2="590.20" y2="546.90" stroke="#33dd22" stroke-width="1.2"/>
<line x1="585.00" y1="551.20" x2="590.20" y2="551.20" stroke="#33dd22" stroke-width="1.2"/>
<line x1="625.10" y1="546.50" x2="625.10" y2="558.60" stroke="#33dd22" stroke-width="1.2"/>
<line x1="622.50" y1="546.50" x2="627.70" y2="546.50" stroke="#33dd22" stroke-width="1.2"/>
<line x1="622.50" y1="558.60" x2="627.70" y2="558.60" stroke="#33dd22" stroke-width="1.2"/>
<line x1="662.80" y1="560.00" x2="662.80" y2="567.00" stroke="#33dd22" stroke-width="1.2"/>
<line x1="660.20" y1="560.00" x2="665.40" y2="560.00" stroke="#33dd22" stroke-width="1.2"/>
<line x1="660.20" y1="567.00" x2="665.40" y2="567.00" stroke="#33dd22" stroke-width="1.2"/>
<polygon points="436.30,566.57 439.20,571.79 433.40,571.79" fill="#fff" stroke="#33dd22" stroke-width="1.1" stroke-linejoin="miter"/>
<polygon points="474.20,556.77 477.10,561.99 471.30,561.99" fill="#fff" stroke="#33dd22" stroke-width="1.1" stroke-linejoin="miter"/>
<polygon points="512.00,562.97 514.90,568.19 509.10,568.19" fill="#fff" stroke="#33dd22" stroke-width="1.1" stroke-linejoin="miter"/>
<polygon points="549.60,560.37 552.50,565.59 546.70,565.59" fill="#fff" stroke="#33dd22" stroke-width="1.1" stroke-linejoin="miter"/>
<polygon points="587.60,546.97 590.50,552.19 584.70,552.19" fill="#fff" stroke="#33dd22" stroke-width="1.1" stroke-linejoin="miter"/>
<polygon points="625.10,549.07 628.00,554.29 622.20,554.29" fill="#fff" stroke="#33dd22" stroke-width="1.1" stroke-linejoin="miter"/>
<polygon points="662.80,560.27 665.70,565.49 659.90,565.49" fill="#fff" stroke="#33dd22" stroke-width="1.1" stroke-linejoin="miter"/>
<polyline points="436.30,570.20 474.20,568.70 512.00,573.40 549.60,570.00 587.60,572.30 625.10,573.40 662.80,573.40" fill="none" stroke="#0000ff" stroke-width="2.0" stroke-linejoin="round"/>
<circle cx="436.30" cy="570.20" r="2.8" fill="#fff" stroke="#0000ff" stroke-width="1.2"/>
<circle cx="474.20" cy="568.70" r="2.8" fill="#fff" stroke="#0000ff" stroke-width="1.2"/>
<circle cx="512.00" cy="573.40" r="2.8" fill="#fff" stroke="#0000ff" stroke-width="1.2"/>
<circle cx="549.60" cy="570.00" r="2.8" fill="#fff" stroke="#0000ff" stroke-width="1.2"/>
<circle cx="587.60" cy="572.30" r="2.8" fill="#fff" stroke="#0000ff" stroke-width="1.2"/>
<circle cx="625.10" cy="573.40" r="2.8" fill="#fff" stroke="#0000ff" stroke-width="1.2"/>
<circle cx="662.80" cy="573.40" r="2.8" fill="#fff" stroke="#0000ff" stroke-width="1.2"/>
<polyline points="436.30,571.40 474.20,572.80 512.00,564.60 549.60,568.30 587.60,568.10 625.10,570.20 662.80,557.10" fill="none" stroke="#ff0000" stroke-width="2.1" stroke-linejoin="round"/>
<line x1="512.00" y1="558.50" x2="512.00" y2="570.00" stroke="#ff0000" stroke-width="1.2"/>
<line x1="509.40" y1="558.50" x2="514.60" y2="558.50" stroke="#ff0000" stroke-width="1.2"/>
<line x1="509.40" y1="570.00" x2="514.60" y2="570.00" stroke="#ff0000" stroke-width="1.2"/>
<line x1="662.80" y1="545.20" x2="662.80" y2="569.20" stroke="#ff0000" stroke-width="1.2"/>
<line x1="660.20" y1="545.20" x2="665.40" y2="545.20" stroke="#ff0000" stroke-width="1.2"/>
<line x1="660.20" y1="569.20" x2="665.40" y2="569.20" stroke="#ff0000" stroke-width="1.2"/>
<rect x="433.50" y="568.60" width="5.6" height="5.6" fill="#fff" stroke="#ff0000" stroke-width="1.2"/>
<rect x="471.40" y="570.00" width="5.6" height="5.6" fill="#fff" stroke="#ff0000" stroke-width="1.2"/>
<rect x="509.20" y="561.80" width="5.6" height="5.6" fill="#fff" stroke="#ff0000" stroke-width="1.2"/>
<rect x="546.80" y="565.50" width="5.6" height="5.6" fill="#fff" stroke="#ff0000" stroke-width="1.2"/>
<rect x="584.80" y="565.30" width="5.6" height="5.6" fill="#fff" stroke="#ff0000" stroke-width="1.2"/>
<rect x="622.30" y="567.40" width="5.6" height="5.6" fill="#fff" stroke="#ff0000" stroke-width="1.2"/>
<rect x="660.00" y="554.30" width="5.6" height="5.6" fill="#fff" stroke="#ff0000" stroke-width="1.2"/>
<line x1="549.30" y1="509.10" x2="549.30" y2="521.30" stroke="#000" stroke-width="1.5"/>
<polygon points="546.60,520.30 552.00,520.30 549.30,526.80" fill="#000"/>
<line x1="75.30" y1="593.70" x2="75.30" y2="729.90" stroke="#6a6a6a" stroke-width="1.3"/>
<line x1="71.40" y1="594.30" x2="75.30" y2="594.30" stroke="#6a6a6a" stroke-width="1.2"/>
<line x1="71.40" y1="639.30" x2="75.30" y2="639.30" stroke="#6a6a6a" stroke-width="1.2"/>
<line x1="71.40" y1="684.30" x2="75.30" y2="684.30" stroke="#6a6a6a" stroke-width="1.2"/>
<line x1="71.40" y1="729.30" x2="75.30" y2="729.30" stroke="#6a6a6a" stroke-width="1.2"/>
<line x1="74.70" y1="729.30" x2="338.60" y2="729.30" stroke="#1a1a1a" stroke-width="1.3"/>
<line x1="93.90" y1="729.30" x2="93.90" y2="732.50" stroke="#1a1a1a" stroke-width="1.1"/>
<line x1="131.70" y1="729.30" x2="131.70" y2="732.50" stroke="#1a1a1a" stroke-width="1.1"/>
<line x1="169.30" y1="729.30" x2="169.30" y2="732.50" stroke="#1a1a1a" stroke-width="1.1"/>
<line x1="207.10" y1="729.30" x2="207.10" y2="732.50" stroke="#1a1a1a" stroke-width="1.1"/>
<line x1="244.90" y1="729.30" x2="244.90" y2="732.50" stroke="#1a1a1a" stroke-width="1.1"/>
<line x1="282.60" y1="729.30" x2="282.60" y2="732.50" stroke="#1a1a1a" stroke-width="1.1"/>
<line x1="320.00" y1="729.30" x2="320.00" y2="732.50" stroke="#1a1a1a" stroke-width="1.1"/>
<polyline points="93.90,728.50 131.70,727.20 169.30,720.70 207.10,725.20 244.90,728.00 282.60,728.00 320.00,728.00" fill="none" stroke="#000000" stroke-width="1.8" stroke-linejoin="round"/>
<polygon points="93.90,725.90 96.50,728.50 93.90,731.10 91.30,728.50" fill="#fff" stroke="#000000" stroke-width="1.1"/>
<polygon points="131.70,724.60 134.30,727.20 131.70,729.80 129.10,727.20" fill="#fff" stroke="#000000" stroke-width="1.1"/>
<polygon points="169.30,718.10 171.90,720.70 169.30,723.30 166.70,720.70" fill="#fff" stroke="#000000" stroke-width="1.1"/>
<polygon points="207.10,722.60 209.70,725.20 207.10,727.80 204.50,725.20" fill="#fff" stroke="#000000" stroke-width="1.1"/>
<polygon points="244.90,725.40 247.50,728.00 244.90,730.60 242.30,728.00" fill="#fff" stroke="#000000" stroke-width="1.1"/>
<polygon points="282.60,725.40 285.20,728.00 282.60,730.60 280.00,728.00" fill="#fff" stroke="#000000" stroke-width="1.1"/>
<polygon points="320.00,725.40 322.60,728.00 320.00,730.60 317.40,728.00" fill="#fff" stroke="#000000" stroke-width="1.1"/>
<polyline points="93.90,728.00 131.70,726.50 169.30,719.00 207.10,724.80 244.90,727.50 282.60,727.50 320.00,727.50" fill="none" stroke="#606060" stroke-width="1.8" stroke-linejoin="round"/>
<circle cx="93.90" cy="728.00" r="2.7" fill="#fff" stroke="#606060" stroke-width="1.1"/>
<circle cx="131.70" cy="726.50" r="2.7" fill="#fff" stroke="#606060" stroke-width="1.1"/>
<circle cx="169.30" cy="719.00" r="2.7" fill="#fff" stroke="#606060" stroke-width="1.1"/>
<circle cx="207.10" cy="724.80" r="2.7" fill="#fff" stroke="#606060" stroke-width="1.1"/>
<circle cx="244.90" cy="727.50" r="2.7" fill="#fff" stroke="#606060" stroke-width="1.1"/>
<circle cx="282.60" cy="727.50" r="2.7" fill="#fff" stroke="#606060" stroke-width="1.1"/>
<circle cx="320.00" cy="727.50" r="2.7" fill="#fff" stroke="#606060" stroke-width="1.1"/>
<polyline points="93.90,724.80 131.70,723.50 169.30,713.90 207.10,725.60 244.90,727.50 282.60,728.50 320.00,728.50" fill="none" stroke="#33dd22" stroke-width="1.9" stroke-linejoin="round"/>
<polygon points="93.90,721.67 96.80,726.89 91.00,726.89" fill="#fff" stroke="#33dd22" stroke-width="1.1" stroke-linejoin="miter"/>
<polygon points="131.70,720.37 134.60,725.59 128.80,725.59" fill="#fff" stroke="#33dd22" stroke-width="1.1" stroke-linejoin="miter"/>
<polygon points="169.30,710.77 172.20,715.99 166.40,715.99" fill="#fff" stroke="#33dd22" stroke-width="1.1" stroke-linejoin="miter"/>
<polygon points="207.10,722.47 210.00,727.69 204.20,727.69" fill="#fff" stroke="#33dd22" stroke-width="1.1" stroke-linejoin="miter"/>
<polygon points="244.90,724.37 247.80,729.59 242.00,729.59" fill="#fff" stroke="#33dd22" stroke-width="1.1" stroke-linejoin="miter"/>
<polygon points="282.60,725.37 285.50,730.59 279.70,730.59" fill="#fff" stroke="#33dd22" stroke-width="1.1" stroke-linejoin="miter"/>
<polygon points="320.00,725.37 322.90,730.59 317.10,730.59" fill="#fff" stroke="#33dd22" stroke-width="1.1" stroke-linejoin="miter"/>
<polyline points="93.90,728.20 131.70,724.20 169.30,694.10 207.10,723.50 244.90,729.00 282.60,726.20 320.00,722.00" fill="none" stroke="#0000ff" stroke-width="2.0" stroke-linejoin="round"/>
<line x1="169.30" y1="679.60" x2="169.30" y2="709.90" stroke="#0000ff" stroke-width="1.2"/>
<line x1="166.70" y1="679.60" x2="171.90" y2="679.60" stroke="#0000ff" stroke-width="1.2"/>
<line x1="166.70" y1="709.90" x2="171.90" y2="709.90" stroke="#0000ff" stroke-width="1.2"/>
<line x1="207.10" y1="720.70" x2="207.10" y2="726.00" stroke="#0000ff" stroke-width="1.2"/>
<line x1="204.50" y1="720.70" x2="209.70" y2="720.70" stroke="#0000ff" stroke-width="1.2"/>
<line x1="204.50" y1="726.00" x2="209.70" y2="726.00" stroke="#0000ff" stroke-width="1.2"/>
<circle cx="93.90" cy="728.20" r="2.8" fill="#fff" stroke="#0000ff" stroke-width="1.2"/>
<circle cx="131.70" cy="724.20" r="2.8" fill="#fff" stroke="#0000ff" stroke-width="1.2"/>
<circle cx="169.30" cy="694.10" r="2.8" fill="#fff" stroke="#0000ff" stroke-width="1.2"/>
<circle cx="207.10" cy="723.50" r="2.8" fill="#fff" stroke="#0000ff" stroke-width="1.2"/>
<circle cx="244.90" cy="729.00" r="2.8" fill="#fff" stroke="#0000ff" stroke-width="1.2"/>
<circle cx="282.60" cy="726.20" r="2.8" fill="#fff" stroke="#0000ff" stroke-width="1.2"/>
<circle cx="320.00" cy="722.00" r="2.8" fill="#fff" stroke="#0000ff" stroke-width="1.2"/>
<polyline points="93.90,727.60 131.70,728.20 169.30,715.40 207.10,726.20 244.90,725.40 282.60,725.40 320.00,728.20" fill="none" stroke="#ff0000" stroke-width="2.1" stroke-linejoin="round"/>
<line x1="244.90" y1="722.00" x2="244.90" y2="729.00" stroke="#ff0000" stroke-width="1.2"/>
<line x1="242.30" y1="722.00" x2="247.50" y2="722.00" stroke="#ff0000" stroke-width="1.2"/>
<line x1="242.30" y1="729.00" x2="247.50" y2="729.00" stroke="#ff0000" stroke-width="1.2"/>
<rect x="91.10" y="724.80" width="5.6" height="5.6" fill="#fff" stroke="#ff0000" stroke-width="1.2"/>
<rect x="128.90" y="725.40" width="5.6" height="5.6" fill="#fff" stroke="#ff0000" stroke-width="1.2"/>
<rect x="166.50" y="712.60" width="5.6" height="5.6" fill="#fff" stroke="#ff0000" stroke-width="1.2"/>
<rect x="204.30" y="723.40" width="5.6" height="5.6" fill="#fff" stroke="#ff0000" stroke-width="1.2"/>
<rect x="242.10" y="722.60" width="5.6" height="5.6" fill="#fff" stroke="#ff0000" stroke-width="1.2"/>
<rect x="279.80" y="722.60" width="5.6" height="5.6" fill="#fff" stroke="#ff0000" stroke-width="1.2"/>
<rect x="317.20" y="725.40" width="5.6" height="5.6" fill="#fff" stroke="#ff0000" stroke-width="1.2"/>
<line x1="207.00" y1="665.10" x2="207.00" y2="677.00" stroke="#000" stroke-width="1.5"/>
<polygon points="204.30,676.00 209.70,676.00 207.00,682.40" fill="#000"/>
<line x1="418.50" y1="593.70" x2="418.50" y2="730.20" stroke="#3a3a3a" stroke-width="1.3"/>
<line x1="414.60" y1="594.30" x2="418.50" y2="594.30" stroke="#3a3a3a" stroke-width="1.2"/>
<line x1="414.60" y1="639.40" x2="418.50" y2="639.40" stroke="#3a3a3a" stroke-width="1.2"/>
<line x1="414.60" y1="684.50" x2="418.50" y2="684.50" stroke="#3a3a3a" stroke-width="1.2"/>
<line x1="414.60" y1="729.60" x2="418.50" y2="729.60" stroke="#3a3a3a" stroke-width="1.2"/>
<line x1="417.90" y1="729.60" x2="684.00" y2="729.60" stroke="#707070" stroke-width="1.3"/>
<line x1="437.40" y1="729.60" x2="437.40" y2="732.80" stroke="#1a1a1a" stroke-width="1.1"/>
<line x1="475.20" y1="729.60" x2="475.20" y2="732.80" stroke="#1a1a1a" stroke-width="1.1"/>
<line x1="513.00" y1="729.60" x2="513.00" y2="732.80" stroke="#1a1a1a" stroke-width="1.1"/>
<line x1="550.90" y1="729.60" x2="550.90" y2="732.80" stroke="#1a1a1a" stroke-width="1.1"/>
<line x1="588.70" y1="729.60" x2="588.70" y2="732.80" stroke="#1a1a1a" stroke-width="1.1"/>
<line x1="626.40" y1="729.60" x2="626.40" y2="732.80" stroke="#1a1a1a" stroke-width="1.1"/>
<line x1="664.50" y1="729.60" x2="664.50" y2="732.80" stroke="#1a1a1a" stroke-width="1.1"/>
<polyline points="437.40,727.70 475.20,727.30 513.00,726.70 550.90,729.00 588.70,729.20 626.40,729.20 664.50,727.00" fill="none" stroke="#33dd22" stroke-width="1.9" stroke-linejoin="round"/>
<polygon points="437.40,724.57 440.30,729.79 434.50,729.79" fill="#fff" stroke="#33dd22" stroke-width="1.1" stroke-linejoin="miter"/>
<polygon points="475.20,724.17 478.10,729.39 472.30,729.39" fill="#fff" stroke="#33dd22" stroke-width="1.1" stroke-linejoin="miter"/>
<polygon points="513.00,723.57 515.90,728.79 510.10,728.79" fill="#fff" stroke="#33dd22" stroke-width="1.1" stroke-linejoin="miter"/>
<polygon points="550.90,725.87 553.80,731.09 548.00,731.09" fill="#fff" stroke="#33dd22" stroke-width="1.1" stroke-linejoin="miter"/>
<polygon points="588.70,726.07 591.60,731.29 585.80,731.29" fill="#fff" stroke="#33dd22" stroke-width="1.1" stroke-linejoin="miter"/>
<polygon points="626.40,726.07 629.30,731.29 623.50,731.29" fill="#fff" stroke="#33dd22" stroke-width="1.1" stroke-linejoin="miter"/>
<polygon points="664.50,723.87 667.40,729.09 661.60,729.09" fill="#fff" stroke="#33dd22" stroke-width="1.1" stroke-linejoin="miter"/>
<polyline points="437.40,728.70 475.20,728.70 513.00,728.70 550.90,728.50 588.70,728.00 626.40,727.50 664.50,727.50" fill="none" stroke="#000000" stroke-width="1.8" stroke-linejoin="round"/>
<polygon points="437.40,726.10 440.00,728.70 437.40,731.30 434.80,728.70" fill="#fff" stroke="#000000" stroke-width="1.1"/>
<polygon points="475.20,726.10 477.80,728.70 475.20,731.30 472.60,728.70" fill="#fff" stroke="#000000" stroke-width="1.1"/>
<polygon points="513.00,726.10 515.60,728.70 513.00,731.30 510.40,728.70" fill="#fff" stroke="#000000" stroke-width="1.1"/>
<polygon points="550.90,725.90 553.50,728.50 550.90,731.10 548.30,728.50" fill="#fff" stroke="#000000" stroke-width="1.1"/>
<polygon points="588.70,725.40 591.30,728.00 588.70,730.60 586.10,728.00" fill="#fff" stroke="#000000" stroke-width="1.1"/>
<polygon points="626.40,724.90 629.00,727.50 626.40,730.10 623.80,727.50" fill="#fff" stroke="#000000" stroke-width="1.1"/>
<polygon points="664.50,724.90 667.10,727.50 664.50,730.10 661.90,727.50" fill="#fff" stroke="#000000" stroke-width="1.1"/>
<polyline points="437.40,724.60 475.20,727.00 513.00,727.00 550.90,728.00 588.70,727.00 626.40,728.10 664.50,727.00" fill="none" stroke="#606060" stroke-width="1.8" stroke-linejoin="round"/>
<circle cx="437.40" cy="724.60" r="2.7" fill="#fff" stroke="#606060" stroke-width="1.1"/>
<circle cx="475.20" cy="727.00" r="2.7" fill="#fff" stroke="#606060" stroke-width="1.1"/>
<circle cx="513.00" cy="727.00" r="2.7" fill="#fff" stroke="#606060" stroke-width="1.1"/>
<circle cx="550.90" cy="728.00" r="2.7" fill="#fff" stroke="#606060" stroke-width="1.1"/>
<circle cx="588.70" cy="727.00" r="2.7" fill="#fff" stroke="#606060" stroke-width="1.1"/>
<circle cx="626.40" cy="728.10" r="2.7" fill="#fff" stroke="#606060" stroke-width="1.1"/>
<circle cx="664.50" cy="727.00" r="2.7" fill="#fff" stroke="#606060" stroke-width="1.1"/>
<polyline points="437.40,726.70 475.20,723.60 513.00,723.60 550.90,726.40 588.70,719.20 626.40,723.90 664.50,725.60" fill="none" stroke="#0000ff" stroke-width="2.0" stroke-linejoin="round"/>
<line x1="588.70" y1="716.50" x2="588.70" y2="721.80" stroke="#0000ff" stroke-width="1.2"/>
<line x1="586.10" y1="716.50" x2="591.30" y2="716.50" stroke="#0000ff" stroke-width="1.2"/>
<line x1="586.10" y1="721.80" x2="591.30" y2="721.80" stroke="#0000ff" stroke-width="1.2"/>
<circle cx="437.40" cy="726.70" r="2.8" fill="#fff" stroke="#0000ff" stroke-width="1.2"/>
<circle cx="475.20" cy="723.60" r="2.8" fill="#fff" stroke="#0000ff" stroke-width="1.2"/>
<circle cx="513.00" cy="723.60" r="2.8" fill="#fff" stroke="#0000ff" stroke-width="1.2"/>
<circle cx="550.90" cy="726.40" r="2.8" fill="#fff" stroke="#0000ff" stroke-width="1.2"/>
<circle cx="588.70" cy="719.20" r="2.8" fill="#fff" stroke="#0000ff" stroke-width="1.2"/>
<circle cx="626.40" cy="723.90" r="2.8" fill="#fff" stroke="#0000ff" stroke-width="1.2"/>
<circle cx="664.50" cy="725.60" r="2.8" fill="#fff" stroke="#0000ff" stroke-width="1.2"/>
<polyline points="437.40,727.70 475.20,729.70 513.00,722.00 550.90,728.70 588.70,728.10 626.40,722.20 664.50,722.20" fill="none" stroke="#ff0000" stroke-width="2.1" stroke-linejoin="round"/>
<line x1="513.00" y1="715.40" x2="513.00" y2="726.00" stroke="#ff0000" stroke-width="1.2"/>
<line x1="510.40" y1="715.40" x2="515.60" y2="715.40" stroke="#ff0000" stroke-width="1.2"/>
<line x1="510.40" y1="726.00" x2="515.60" y2="726.00" stroke="#ff0000" stroke-width="1.2"/>
<line x1="664.50" y1="714.30" x2="664.50" y2="727.00" stroke="#ff0000" stroke-width="1.2"/>
<line x1="661.90" y1="714.30" x2="667.10" y2="714.30" stroke="#ff0000" stroke-width="1.2"/>
<line x1="661.90" y1="727.00" x2="667.10" y2="727.00" stroke="#ff0000" stroke-width="1.2"/>
<rect x="434.60" y="724.90" width="5.6" height="5.6" fill="#fff" stroke="#ff0000" stroke-width="1.2"/>
<rect x="472.40" y="726.90" width="5.6" height="5.6" fill="#fff" stroke="#ff0000" stroke-width="1.2"/>
<rect x="510.20" y="719.20" width="5.6" height="5.6" fill="#fff" stroke="#ff0000" stroke-width="1.2"/>
<rect x="548.10" y="725.90" width="5.6" height="5.6" fill="#fff" stroke="#ff0000" stroke-width="1.2"/>
<rect x="585.90" y="725.30" width="5.6" height="5.6" fill="#fff" stroke="#ff0000" stroke-width="1.2"/>
<rect x="623.60" y="719.40" width="5.6" height="5.6" fill="#fff" stroke="#ff0000" stroke-width="1.2"/>
<rect x="661.70" y="719.40" width="5.6" height="5.6" fill="#fff" stroke="#ff0000" stroke-width="1.2"/>
<line x1="551.20" y1="665.10" x2="551.20" y2="678.00" stroke="#000" stroke-width="1.5"/>
<polygon points="548.50,677.00 553.90,677.00 551.20,682.40" fill="#000"/>
<line x1="75.20" y1="783.60" x2="75.20" y2="919.80" stroke="#555" stroke-width="1.3"/>
<line x1="71.30" y1="784.20" x2="75.20" y2="784.20" stroke="#555" stroke-width="1.2"/>
<line x1="71.30" y1="818.00" x2="75.20" y2="818.00" stroke="#555" stroke-width="1.2"/>
<line x1="71.30" y1="851.70" x2="75.20" y2="851.70" stroke="#555" stroke-width="1.2"/>
<line x1="71.30" y1="885.40" x2="75.20" y2="885.40" stroke="#555" stroke-width="1.2"/>
<line x1="71.30" y1="919.20" x2="75.20" y2="919.20" stroke="#555" stroke-width="1.2"/>
<line x1="74.60" y1="919.20" x2="339.50" y2="919.20" stroke="#1a1a1a" stroke-width="1.3"/>
<line x1="93.90" y1="919.20" x2="93.90" y2="922.40" stroke="#1a1a1a" stroke-width="1.1"/>
<line x1="131.70" y1="919.20" x2="131.70" y2="922.40" stroke="#1a1a1a" stroke-width="1.1"/>
<line x1="169.30" y1="919.20" x2="169.30" y2="922.40" stroke="#1a1a1a" stroke-width="1.1"/>
<line x1="207.10" y1="919.20" x2="207.10" y2="922.40" stroke="#1a1a1a" stroke-width="1.1"/>
<line x1="244.90" y1="919.20" x2="244.90" y2="922.40" stroke="#1a1a1a" stroke-width="1.1"/>
<line x1="282.60" y1="919.20" x2="282.60" y2="922.40" stroke="#1a1a1a" stroke-width="1.1"/>
<line x1="320.00" y1="919.20" x2="320.00" y2="922.40" stroke="#1a1a1a" stroke-width="1.1"/>
<polyline points="93.90,917.60 131.70,918.90 169.30,919.30 207.10,919.30 244.90,919.30 282.60,919.30 320.00,919.30" fill="none" stroke="#000000" stroke-width="1.8" stroke-linejoin="round"/>
<polygon points="93.90,915.00 96.50,917.60 93.90,920.20 91.30,917.60" fill="#fff" stroke="#000000" stroke-width="1.1"/>
<polygon points="131.70,916.30 134.30,918.90 131.70,921.50 129.10,918.90" fill="#fff" stroke="#000000" stroke-width="1.1"/>
<polygon points="169.30,916.70 171.90,919.30 169.30,921.90 166.70,919.30" fill="#fff" stroke="#000000" stroke-width="1.1"/>
<polygon points="207.10,916.70 209.70,919.30 207.10,921.90 204.50,919.30" fill="#fff" stroke="#000000" stroke-width="1.1"/>
<polygon points="244.90,916.70 247.50,919.30 244.90,921.90 242.30,919.30" fill="#fff" stroke="#000000" stroke-width="1.1"/>
<polygon points="282.60,916.70 285.20,919.30 282.60,921.90 280.00,919.30" fill="#fff" stroke="#000000" stroke-width="1.1"/>
<polygon points="320.00,916.70 322.60,919.30 320.00,921.90 317.40,919.30" fill="#fff" stroke="#000000" stroke-width="1.1"/>
<polyline points="93.90,915.20 131.70,905.40 169.30,912.70 207.10,910.90 244.90,909.50 282.60,915.90 320.00,913.70" fill="none" stroke="#606060" stroke-width="1.8" stroke-linejoin="round"/>
<line x1="131.70" y1="899.90" x2="131.70" y2="910.70" stroke="#606060" stroke-width="1.2"/>
<line x1="129.10" y1="899.90" x2="134.30" y2="899.90" stroke="#606060" stroke-width="1.2"/>
<line x1="129.10" y1="910.70" x2="134.30" y2="910.70" stroke="#606060" stroke-width="1.2"/>
<line x1="244.90" y1="906.00" x2="244.90" y2="913.00" stroke="#606060" stroke-width="1.2"/>
<line x1="242.30" y1="906.00" x2="247.50" y2="906.00" stroke="#606060" stroke-width="1.2"/>
<line x1="242.30" y1="913.00" x2="247.50" y2="913.00" stroke="#606060" stroke-width="1.2"/>
<circle cx="93.90" cy="915.20" r="2.7" fill="#fff" stroke="#606060" stroke-width="1.1"/>
<circle cx="131.70" cy="905.40" r="2.7" fill="#fff" stroke="#606060" stroke-width="1.1"/>
<circle cx="169.30" cy="912.70" r="2.7" fill="#fff" stroke="#606060" stroke-width="1.1"/>
<circle cx="207.10" cy="910.90" r="2.7" fill="#fff" stroke="#606060" stroke-width="1.1"/>
<circle cx="244.90" cy="909.50" r="2.7" fill="#fff" stroke="#606060" stroke-width="1.1"/>
<circle cx="282.60" cy="915.90" r="2.7" fill="#fff" stroke="#606060" stroke-width="1.1"/>
<circle cx="320.00" cy="913.70" r="2.7" fill="#fff" stroke="#606060" stroke-width="1.1"/>
<polyline points="93.90,913.50 131.70,884.50 169.30,890.70 207.10,881.50 244.90,852.60 282.60,882.30 320.00,888.10" fill="none" stroke="#33dd22" stroke-width="1.9" stroke-linejoin="round"/>
<line x1="131.70" y1="870.60" x2="131.70" y2="898.80" stroke="#33dd22" stroke-width="1.2"/>
<line x1="129.10" y1="870.60" x2="134.30" y2="870.60" stroke="#33dd22" stroke-width="1.2"/>
<line x1="129.10" y1="898.80" x2="134.30" y2="898.80" stroke="#33dd22" stroke-width="1.2"/>
<line x1="169.30" y1="878.80" x2="169.30" y2="903.90" stroke="#33dd22" stroke-width="1.2"/>
<line x1="166.70" y1="878.80" x2="171.90" y2="878.80" stroke="#33dd22" stroke-width="1.2"/>
<line x1="166.70" y1="903.90" x2="171.90" y2="903.90" stroke="#33dd22" stroke-width="1.2"/>
<line x1="207.10" y1="865.70" x2="207.10" y2="896.80" stroke="#33dd22" stroke-width="1.2"/>
<line x1="204.50" y1="865.70" x2="209.70" y2="865.70" stroke="#33dd22" stroke-width="1.2"/>
<line x1="204.50" y1="896.80" x2="209.70" y2="896.80" stroke="#33dd22" stroke-width="1.2"/>
<line x1="244.90" y1="835.20" x2="244.90" y2="869.80" stroke="#33dd22" stroke-width="1.2"/>
<line x1="242.30" y1="835.20" x2="247.50" y2="835.20" stroke="#33dd22" stroke-width="1.2"/>
<line x1="242.30" y1="869.80" x2="247.50" y2="869.80" stroke="#33dd22" stroke-width="1.2"/>
<line x1="282.60" y1="875.40" x2="282.60" y2="888.70" stroke="#33dd22" stroke-width="1.2"/>
<line x1="280.00" y1="875.40" x2="285.20" y2="875.40" stroke="#33dd22" stroke-width="1.2"/>
<line x1="280.00" y1="888.70" x2="285.20" y2="888.70" stroke="#33dd22" stroke-width="1.2"/>
<line x1="320.00" y1="874.30" x2="320.00" y2="902.60" stroke="#33dd22" stroke-width="1.2"/>
<line x1="317.40" y1="874.30" x2="322.60" y2="874.30" stroke="#33dd22" stroke-width="1.2"/>
<line x1="317.40" y1="902.60" x2="322.60" y2="902.60" stroke="#33dd22" stroke-width="1.2"/>
<polygon points="93.90,910.37 96.80,915.59 91.00,915.59" fill="#fff" stroke="#33dd22" stroke-width="1.1" stroke-linejoin="miter"/>
<polygon points="131.70,881.37 134.60,886.59 128.80,886.59" fill="#fff" stroke="#33dd22" stroke-width="1.1" stroke-linejoin="miter"/>
<polygon points="169.30,887.57 172.20,892.79 166.40,892.79" fill="#fff" stroke="#33dd22" stroke-width="1.1" stroke-linejoin="miter"/>
<polygon points="207.10,878.37 210.00,883.59 204.20,883.59" fill="#fff" stroke="#33dd22" stroke-width="1.1" stroke-linejoin="miter"/>
<polygon points="244.90,849.47 247.80,854.69 242.00,854.69" fill="#fff" stroke="#33dd22" stroke-width="1.1" stroke-linejoin="miter"/>
<polygon points="282.60,879.17 285.50,884.39 279.70,884.39" fill="#fff" stroke="#33dd22" stroke-width="1.1" stroke-linejoin="miter"/>
<polygon points="320.00,884.97 322.90,890.19 317.10,890.19" fill="#fff" stroke="#33dd22" stroke-width="1.1" stroke-linejoin="miter"/>
<polyline points="93.90,912.10 131.70,918.90 169.30,915.60 207.10,912.10 244.90,918.40 282.60,918.40 320.00,906.70" fill="none" stroke="#0000ff" stroke-width="2.0" stroke-linejoin="round"/>
<line x1="93.90" y1="908.60" x2="93.90" y2="915.50" stroke="#0000ff" stroke-width="1.2"/>
<line x1="91.30" y1="908.60" x2="96.50" y2="908.60" stroke="#0000ff" stroke-width="1.2"/>
<line x1="91.30" y1="915.50" x2="96.50" y2="915.50" stroke="#0000ff" stroke-width="1.2"/>
<line x1="320.00" y1="903.00" x2="320.00" y2="911.00" stroke="#0000ff" stroke-width="1.2"/>
<line x1="317.40" y1="903.00" x2="322.60" y2="903.00" stroke="#0000ff" stroke-width="1.2"/>
<line x1="317.40" y1="911.00" x2="322.60" y2="911.00" stroke="#0000ff" stroke-width="1.2"/>
<circle cx="93.90" cy="912.10" r="2.8" fill="#fff" stroke="#0000ff" stroke-width="1.2"/>
<circle cx="131.70" cy="918.90" r="2.8" fill="#fff" stroke="#0000ff" stroke-width="1.2"/>
<circle cx="169.30" cy="915.60" r="2.8" fill="#fff" stroke="#0000ff" stroke-width="1.2"/>
<circle cx="207.10" cy="912.10" r="2.8" fill="#fff" stroke="#0000ff" stroke-width="1.2"/>
<circle cx="244.90" cy="918.40" r="2.8" fill="#fff" stroke="#0000ff" stroke-width="1.2"/>
<circle cx="282.60" cy="918.40" r="2.8" fill="#fff" stroke="#0000ff" stroke-width="1.2"/>
<circle cx="320.00" cy="906.70" r="2.8" fill="#fff" stroke="#0000ff" stroke-width="1.2"/>
<polyline points="93.90,918.90 131.70,889.60 169.30,907.00 207.10,902.50 244.90,917.30 282.60,893.40 320.00,896.20" fill="none" stroke="#ff0000" stroke-width="2.1" stroke-linejoin="round"/>
<line x1="131.70" y1="880.40" x2="131.70" y2="899.90" stroke="#ff0000" stroke-width="1.2"/>
<line x1="129.10" y1="880.40" x2="134.30" y2="880.40" stroke="#ff0000" stroke-width="1.2"/>
<line x1="129.10" y1="899.90" x2="134.30" y2="899.90" stroke="#ff0000" stroke-width="1.2"/>
<line x1="169.30" y1="901.90" x2="169.30" y2="910.00" stroke="#ff0000" stroke-width="1.2"/>
<line x1="166.70" y1="901.90" x2="171.90" y2="901.90" stroke="#ff0000" stroke-width="1.2"/>
<line x1="166.70" y1="910.00" x2="171.90" y2="910.00" stroke="#ff0000" stroke-width="1.2"/>
<line x1="207.10" y1="897.20" x2="207.10" y2="908.00" stroke="#ff0000" stroke-width="1.2"/>
<line x1="204.50" y1="897.20" x2="209.70" y2="897.20" stroke="#ff0000" stroke-width="1.2"/>
<line x1="204.50" y1="908.00" x2="209.70" y2="908.00" stroke="#ff0000" stroke-width="1.2"/>
<line x1="282.60" y1="885.90" x2="282.60" y2="902.00" stroke="#ff0000" stroke-width="1.2"/>
<line x1="280.00" y1="885.90" x2="285.20" y2="885.90" stroke="#ff0000" stroke-width="1.2"/>
<line x1="280.00" y1="902.00" x2="285.20" y2="902.00" stroke="#ff0000" stroke-width="1.2"/>
<line x1="320.00" y1="884.50" x2="320.00" y2="908.10" stroke="#ff0000" stroke-width="1.2"/>
<line x1="317.40" y1="884.50" x2="322.60" y2="884.50" stroke="#ff0000" stroke-width="1.2"/>
<line x1="317.40" y1="908.10" x2="322.60" y2="908.10" stroke="#ff0000" stroke-width="1.2"/>
<rect x="91.10" y="916.10" width="5.6" height="5.6" fill="#fff" stroke="#ff0000" stroke-width="1.2"/>
<rect x="128.90" y="886.80" width="5.6" height="5.6" fill="#fff" stroke="#ff0000" stroke-width="1.2"/>
<rect x="166.50" y="904.20" width="5.6" height="5.6" fill="#fff" stroke="#ff0000" stroke-width="1.2"/>
<rect x="204.30" y="899.70" width="5.6" height="5.6" fill="#fff" stroke="#ff0000" stroke-width="1.2"/>
<rect x="242.10" y="914.50" width="5.6" height="5.6" fill="#fff" stroke="#ff0000" stroke-width="1.2"/>
<rect x="279.80" y="890.60" width="5.6" height="5.6" fill="#fff" stroke="#ff0000" stroke-width="1.2"/>
<rect x="317.20" y="893.40" width="5.6" height="5.6" fill="#fff" stroke="#ff0000" stroke-width="1.2"/>
<line x1="206.60" y1="802.00" x2="206.60" y2="814.20" stroke="#000" stroke-width="1.5"/>
<polygon points="203.90,813.20 209.30,813.20 206.60,819.40" fill="#000"/>
<line x1="418.50" y1="783.70" x2="418.50" y2="919.20" stroke="#222" stroke-width="1.3"/>
<line x1="414.60" y1="784.30" x2="418.50" y2="784.30" stroke="#222" stroke-width="1.2"/>
<line x1="414.60" y1="818.00" x2="418.50" y2="818.00" stroke="#222" stroke-width="1.2"/>
<line x1="414.60" y1="851.70" x2="418.50" y2="851.70" stroke="#222" stroke-width="1.2"/>
<line x1="414.60" y1="885.20" x2="418.50" y2="885.20" stroke="#222" stroke-width="1.2"/>
<line x1="414.60" y1="918.60" x2="418.50" y2="918.60" stroke="#222" stroke-width="1.2"/>
<line x1="417.90" y1="918.60" x2="682.00" y2="918.60" stroke="#1a1a1a" stroke-width="1.3"/>
<line x1="437.40" y1="918.60" x2="437.40" y2="921.80" stroke="#1a1a1a" stroke-width="1.1"/>
<line x1="474.80" y1="918.60" x2="474.80" y2="921.80" stroke="#1a1a1a" stroke-width="1.1"/>
<line x1="512.40" y1="918.60" x2="512.40" y2="921.80" stroke="#1a1a1a" stroke-width="1.1"/>
<line x1="549.60" y1="918.60" x2="549.60" y2="921.80" stroke="#1a1a1a" stroke-width="1.1"/>
<line x1="587.60" y1="918.60" x2="587.60" y2="921.80" stroke="#1a1a1a" stroke-width="1.1"/>
<line x1="624.70" y1="918.60" x2="624.70" y2="921.80" stroke="#1a1a1a" stroke-width="1.1"/>
<line x1="662.40" y1="918.60" x2="662.40" y2="921.80" stroke="#1a1a1a" stroke-width="1.1"/>
<polyline points="437.40,918.60 474.80,918.60 512.40,918.60 549.60,918.60 587.60,917.00 624.70,918.60 662.40,918.60" fill="none" stroke="#33dd22" stroke-width="1.9" stroke-linejoin="round"/>
<polygon points="437.40,915.47 440.30,920.69 434.50,920.69" fill="#fff" stroke="#33dd22" stroke-width="1.1" stroke-linejoin="miter"/>
<polygon points="474.80,915.47 477.70,920.69 471.90,920.69" fill="#fff" stroke="#33dd22" stroke-width="1.1" stroke-linejoin="miter"/>
<polygon points="512.40,915.47 515.30,920.69 509.50,920.69" fill="#fff" stroke="#33dd22" stroke-width="1.1" stroke-linejoin="miter"/>
<polygon points="549.60,915.47 552.50,920.69 546.70,920.69" fill="#fff" stroke="#33dd22" stroke-width="1.1" stroke-linejoin="miter"/>
<polygon points="587.60,913.87 590.50,919.09 584.70,919.09" fill="#fff" stroke="#33dd22" stroke-width="1.1" stroke-linejoin="miter"/>
<polygon points="624.70,915.47 627.60,920.69 621.80,920.69" fill="#fff" stroke="#33dd22" stroke-width="1.1" stroke-linejoin="miter"/>
<polygon points="662.40,915.47 665.30,920.69 659.50,920.69" fill="#fff" stroke="#33dd22" stroke-width="1.1" stroke-linejoin="miter"/>
<polyline points="437.40,918.30 474.80,918.30 512.40,918.30 549.60,918.30 587.60,918.30 624.70,918.30 662.40,916.00" fill="none" stroke="#000000" stroke-width="1.8" stroke-linejoin="round"/>
<polygon points="437.40,915.70 440.00,918.30 437.40,920.90 434.80,918.30" fill="#fff" stroke="#000000" stroke-width="1.1"/>
<polygon points="474.80,915.70 477.40,918.30 474.80,920.90 472.20,918.30" fill="#fff" stroke="#000000" stroke-width="1.1"/>
<polygon points="512.40,915.70 515.00,918.30 512.40,920.90 509.80,918.30" fill="#fff" stroke="#000000" stroke-width="1.1"/>
<polygon points="549.60,915.70 552.20,918.30 549.60,920.90 547.00,918.30" fill="#fff" stroke="#000000" stroke-width="1.1"/>
<polygon points="587.60,915.70 590.20,918.30 587.60,920.90 585.00,918.30" fill="#fff" stroke="#000000" stroke-width="1.1"/>
<polygon points="624.70,915.70 627.30,918.30 624.70,920.90 622.10,918.30" fill="#fff" stroke="#000000" stroke-width="1.1"/>
<polygon points="662.40,913.40 665.00,916.00 662.40,918.60 659.80,916.00" fill="#fff" stroke="#000000" stroke-width="1.1"/>
<polyline points="437.40,918.00 474.80,918.00 512.40,917.20 549.60,917.80 587.60,917.80 624.70,917.60 662.40,914.80" fill="none" stroke="#606060" stroke-width="1.8" stroke-linejoin="round"/>
<circle cx="437.40" cy="918.00" r="2.7" fill="#fff" stroke="#606060" stroke-width="1.1"/>
<circle cx="474.80" cy="918.00" r="2.7" fill="#fff" stroke="#606060" stroke-width="1.1"/>
<circle cx="512.40" cy="917.20" r="2.7" fill="#fff" stroke="#606060" stroke-width="1.1"/>
<circle cx="549.60" cy="917.80" r="2.7" fill="#fff" stroke="#606060" stroke-width="1.1"/>
<circle cx="587.60" cy="917.80" r="2.7" fill="#fff" stroke="#606060" stroke-width="1.1"/>
<circle cx="624.70" cy="917.60" r="2.7" fill="#fff" stroke="#606060" stroke-width="1.1"/>
<circle cx="662.40" cy="914.80" r="2.7" fill="#fff" stroke="#606060" stroke-width="1.1"/>
<polyline points="437.40,913.30 474.80,913.30 512.40,898.60 549.60,914.40 587.60,895.60 624.70,905.50 662.40,886.90" fill="none" stroke="#0000ff" stroke-width="2.0" stroke-linejoin="round"/>
<line x1="437.40" y1="911.50" x2="437.40" y2="915.00" stroke="#0000ff" stroke-width="1.2"/>
<line x1="434.80" y1="911.50" x2="440.00" y2="911.50" stroke="#0000ff" stroke-width="1.2"/>
<line x1="434.80" y1="915.00" x2="440.00" y2="915.00" stroke="#0000ff" stroke-width="1.2"/>
<line x1="512.40" y1="889.40" x2="512.40" y2="907.50" stroke="#0000ff" stroke-width="1.2"/>
<line x1="509.80" y1="889.40" x2="515.00" y2="889.40" stroke="#0000ff" stroke-width="1.2"/>
<line x1="509.80" y1="907.50" x2="515.00" y2="907.50" stroke="#0000ff" stroke-width="1.2"/>
<line x1="587.60" y1="887.50" x2="587.60" y2="903.40" stroke="#0000ff" stroke-width="1.2"/>
<line x1="585.00" y1="887.50" x2="590.20" y2="887.50" stroke="#0000ff" stroke-width="1.2"/>
<line x1="585.00" y1="903.40" x2="590.20" y2="903.40" stroke="#0000ff" stroke-width="1.2"/>
<line x1="624.70" y1="903.00" x2="624.70" y2="908.00" stroke="#0000ff" stroke-width="1.2"/>
<line x1="622.10" y1="903.00" x2="627.30" y2="903.00" stroke="#0000ff" stroke-width="1.2"/>
<line x1="622.10" y1="908.00" x2="627.30" y2="908.00" stroke="#0000ff" stroke-width="1.2"/>
<line x1="662.40" y1="879.00" x2="662.40" y2="894.30" stroke="#0000ff" stroke-width="1.2"/>
<line x1="659.80" y1="879.00" x2="665.00" y2="879.00" stroke="#0000ff" stroke-width="1.2"/>
<line x1="659.80" y1="894.30" x2="665.00" y2="894.30" stroke="#0000ff" stroke-width="1.2"/>
<circle cx="437.40" cy="913.30" r="2.8" fill="#fff" stroke="#0000ff" stroke-width="1.2"/>
<circle cx="474.80" cy="913.30" r="2.8" fill="#fff" stroke="#0000ff" stroke-width="1.2"/>
<circle cx="512.40" cy="898.60" r="2.8" fill="#fff" stroke="#0000ff" stroke-width="1.2"/>
<circle cx="549.60" cy="914.40" r="2.8" fill="#fff" stroke="#0000ff" stroke-width="1.2"/>
<circle cx="587.60" cy="895.60" r="2.8" fill="#fff" stroke="#0000ff" stroke-width="1.2"/>
<circle cx="624.70" cy="905.50" r="2.8" fill="#fff" stroke="#0000ff" stroke-width="1.2"/>
<circle cx="662.40" cy="886.90" r="2.8" fill="#fff" stroke="#0000ff" stroke-width="1.2"/>
<polyline points="437.40,917.40 474.80,894.50 512.40,899.00 549.60,907.40 587.60,918.20 624.70,898.50 662.40,903.40" fill="none" stroke="#ff0000" stroke-width="2.1" stroke-linejoin="round"/>
<line x1="474.80" y1="884.70" x2="474.80" y2="903.70" stroke="#ff0000" stroke-width="1.2"/>
<line x1="472.20" y1="884.70" x2="477.40" y2="884.70" stroke="#ff0000" stroke-width="1.2"/>
<line x1="472.20" y1="903.70" x2="477.40" y2="903.70" stroke="#ff0000" stroke-width="1.2"/>
<line x1="512.40" y1="895.50" x2="512.40" y2="906.40" stroke="#ff0000" stroke-width="1.2"/>
<line x1="509.80" y1="895.50" x2="515.00" y2="895.50" stroke="#ff0000" stroke-width="1.2"/>
<line x1="509.80" y1="906.40" x2="515.00" y2="906.40" stroke="#ff0000" stroke-width="1.2"/>
<line x1="549.60" y1="901.50" x2="549.60" y2="912.90" stroke="#ff0000" stroke-width="1.2"/>
<line x1="547.00" y1="901.50" x2="552.20" y2="901.50" stroke="#ff0000" stroke-width="1.2"/>
<line x1="547.00" y1="912.90" x2="552.20" y2="912.90" stroke="#ff0000" stroke-width="1.2"/>
<line x1="624.70" y1="888.60" x2="624.70" y2="907.00" stroke="#ff0000" stroke-width="1.2"/>
<line x1="622.10" y1="888.60" x2="627.30" y2="888.60" stroke="#ff0000" stroke-width="1.2"/>
<line x1="622.10" y1="907.00" x2="627.30" y2="907.00" stroke="#ff0000" stroke-width="1.2"/>
<line x1="662.40" y1="890.00" x2="662.40" y2="917.60" stroke="#ff0000" stroke-width="1.2"/>
<line x1="659.80" y1="890.00" x2="665.00" y2="890.00" stroke="#ff0000" stroke-width="1.2"/>
<line x1="659.80" y1="917.60" x2="665.00" y2="917.60" stroke="#ff0000" stroke-width="1.2"/>
<rect x="434.60" y="914.60" width="5.6" height="5.6" fill="#fff" stroke="#ff0000" stroke-width="1.2"/>
<rect x="472.00" y="891.70" width="5.6" height="5.6" fill="#fff" stroke="#ff0000" stroke-width="1.2"/>
<rect x="509.60" y="896.20" width="5.6" height="5.6" fill="#fff" stroke="#ff0000" stroke-width="1.2"/>
<rect x="546.80" y="904.60" width="5.6" height="5.6" fill="#fff" stroke="#ff0000" stroke-width="1.2"/>
<rect x="584.80" y="915.40" width="5.6" height="5.6" fill="#fff" stroke="#ff0000" stroke-width="1.2"/>
<rect x="621.90" y="895.70" width="5.6" height="5.6" fill="#fff" stroke="#ff0000" stroke-width="1.2"/>
<rect x="659.60" y="900.60" width="5.6" height="5.6" fill="#fff" stroke="#ff0000" stroke-width="1.2"/>
<line x1="551.20" y1="802.60" x2="551.20" y2="815.20" stroke="#000" stroke-width="1.5"/>
<polygon points="548.50,814.20 553.90,814.20 551.20,820.00" fill="#000"/>
<text transform="translate(-0.04,23.22) scale(1.0416,1)" font-size="32.06" font-weight="bold" fill="#000">A</text>
<text transform="translate(41.79,25.56) scale(0.9657,1)" font-size="13.94" font-weight="bold" fill="#000">10</text>
<text transform="translate(58.31,21.21) scale(0.8350,1)" font-size="8.73" font-weight="bold" fill="#000">6</text>
<text transform="translate(41.79,57.61) scale(0.9657,1)" font-size="13.94" font-weight="bold" fill="#000">10</text>
<text transform="translate(58.38,53.26) scale(0.8350,1)" font-size="8.73" font-weight="bold" fill="#000">5</text>
<text transform="translate(41.79,89.66) scale(0.9657,1)" font-size="13.94" font-weight="bold" fill="#000">10</text>
<text transform="translate(58.45,85.31) scale(0.8350,1)" font-size="8.73" font-weight="bold" fill="#000">4</text>
<text transform="translate(41.79,121.71) scale(0.9657,1)" font-size="13.94" font-weight="bold" fill="#000">10</text>
<text transform="translate(58.45,117.36) scale(0.8350,1)" font-size="8.73" font-weight="bold" fill="#000">3</text>
<text transform="translate(41.79,153.76) scale(0.9657,1)" font-size="13.94" font-weight="bold" fill="#000">10</text>
<text transform="translate(58.38,149.41) scale(0.8350,1)" font-size="8.73" font-weight="bold" fill="#000">2</text>
<text transform="translate(41.79,185.81) scale(0.9657,1)" font-size="13.94" font-weight="bold" fill="#000">10</text>
<text transform="translate(59.16,181.46) scale(0.8350,1)" font-size="8.73" font-weight="bold" fill="#000">1</text>
<text transform="translate(34.64,185.13) scale(1.1436,1)" font-size="11.60" fill="#000">&lt;</text>
<text transform="translate(31.50,119.38) rotate(-90) scale(0.9365,1)" font-size="21.01" font-weight="bold" fill="#000">EPT</text>
<text transform="translate(77.73,201.70) scale(0.9149,1)" font-size="13.43" font-weight="bold" fill="#000">21</text>
<text transform="translate(139.63,201.70) scale(0.9149,1)" font-size="13.43" font-weight="bold" fill="#000">21</text>
<text transform="translate(201.63,201.70) scale(0.9149,1)" font-size="13.43" font-weight="bold" fill="#000">21</text>
<text transform="translate(263.63,201.70) scale(0.9149,1)" font-size="13.43" font-weight="bold" fill="#000">21</text>
<text transform="translate(102.83,201.70) scale(1.0071,1)" font-size="13.43" font-weight="bold" fill="#000">42</text>
<text transform="translate(165.03,201.70) scale(1.0071,1)" font-size="13.43" font-weight="bold" fill="#000">42</text>
<text transform="translate(226.93,201.70) scale(1.0071,1)" font-size="13.43" font-weight="bold" fill="#000">42</text>
<text transform="translate(289.03,201.70) scale(1.0071,1)" font-size="13.43" font-weight="bold" fill="#000">42</text>
<text transform="translate(146.56,30.50) scale(0.9930,1)" font-size="20.72" font-weight="bold" fill="#000">NiV G</text>
<text transform="translate(261.98,30.50) scale(0.9769,1)" font-size="20.72" font-weight="bold" fill="#000">NiV F</text>
<text transform="translate(106.50,21.56) scale(1.0638,1)" font-size="14.00" fill="#000">e</text>
<text transform="translate(230.24,68.77) scale(1.0680,1)" font-size="13.11" fill="#000">d</text>
<text transform="translate(494.53,48.70) scale(0.9646,1)" font-size="21.59" fill="#000">NiV sG</text>
<text transform="translate(495.18,77.90) scale(0.9462,1)" font-size="21.59" fill="#000">ChAdOx1 NiV G</text>
<text transform="translate(495.05,108.30) scale(0.9552,1)" font-size="21.59" fill="#000">HeV sG</text>
<text transform="translate(494.55,138.10) scale(0.9559,1)" font-size="21.59" fill="#000">NiV mcsF</text>
<text transform="translate(496.20,167.30) scale(0.9366,1)" font-size="21.59" fill="#000">Adjuvant Only</text>
<text transform="translate(0.05,238.80) scale(0.9659,1)" font-size="31.74" font-weight="bold" fill="#000">B</text>
<text transform="translate(52.18,235.87) scale(0.9636,1)" font-size="12.54" font-weight="bold" fill="#000">10</text>
<text transform="translate(66.95,231.60) scale(0.9403,1)" font-size="7.83" font-weight="bold" fill="#000">4</text>
<text transform="translate(52.18,269.72) scale(0.9636,1)" font-size="12.54" font-weight="bold" fill="#000">10</text>
<text transform="translate(66.95,265.45) scale(0.9403,1)" font-size="7.83" font-weight="bold" fill="#000">3</text>
<text transform="translate(52.18,303.57) scale(0.9636,1)" font-size="12.54" font-weight="bold" fill="#000">10</text>
<text transform="translate(66.88,299.30) scale(0.9403,1)" font-size="7.83" font-weight="bold" fill="#000">2</text>
<text transform="translate(52.18,337.42) scale(0.9636,1)" font-size="12.54" font-weight="bold" fill="#000">10</text>
<text transform="translate(66.66,333.15) scale(0.9403,1)" font-size="7.83" font-weight="bold" fill="#000">1</text>
<text transform="translate(52.18,371.27) scale(0.9636,1)" font-size="12.54" font-weight="bold" fill="#000">10</text>
<text transform="translate(66.81,367.00) scale(0.9403,1)" font-size="7.83" font-weight="bold" fill="#000">0</text>
<text transform="translate(44.60,312.95) rotate(-90) scale(0.9390,1)" font-size="14.49" font-weight="bold" fill="#000">ND</text>
<text transform="translate(47.69,293.42) rotate(-90) scale(0.9592,1)" font-size="11.13" font-weight="bold" fill="#000">50</text>
<text transform="translate(187.63,263.68) scale(0.9948,1)" font-size="12.43" font-weight="bold" fill="#000">Boost</text>
<text transform="translate(303.40,267.46) scale(1.0596,1)" font-size="9.53" fill="#1e1e1e">a,c,d,e</text>
<text transform="translate(368.92,239.28) scale(0.9071,1)" font-size="32.39" font-weight="bold" fill="#000">C</text>
<text transform="translate(396.30,235.30) scale(0.9595,1)" font-size="10.42" font-weight="bold" fill="#000">100</text>
<text transform="translate(401.90,303.20) scale(0.9595,1)" font-size="10.42" font-weight="bold" fill="#000">50</text>
<text transform="translate(407.50,371.10) scale(0.9595,1)" font-size="10.42" font-weight="bold" fill="#000">0</text>
<text transform="translate(391.10,347.34) rotate(-90) scale(1.0159,1)" font-size="11.00" font-weight="bold" fill="#000">% fusion inhibition</text>
<text transform="translate(450.58,232.96) scale(1.0176,1)" font-size="10.30" fill="#1e1e1e">c,e</text>
<text transform="translate(511.68,273.41) scale(1.1201,1)" font-size="9.32" fill="#1e1e1e">d</text>
<text transform="translate(568.65,261.71) scale(1.2155,1)" font-size="9.32" fill="#1e1e1e">d</text>
<text transform="translate(0.05,441.10) scale(0.9659,1)" font-size="31.74" font-weight="bold" fill="#000">D</text>
<text transform="translate(183.07,434.96) scale(0.9796,1)" font-size="23.80" font-weight="bold" fill="#000">CD8</text>
<text transform="translate(46.41,442.48) scale(1.0639,1)" font-size="11.55" font-weight="bold" fill="#000">0.15</text>
<text transform="translate(46.65,487.38) scale(1.0639,1)" font-size="11.55" font-weight="bold" fill="#000">0.10</text>
<text transform="translate(46.41,532.28) scale(1.0639,1)" font-size="11.55" font-weight="bold" fill="#000">0.05</text>
<text transform="translate(46.65,577.28) scale(1.0639,1)" font-size="11.55" font-weight="bold" fill="#000">0.00</text>
<text transform="translate(35.70,564.21) rotate(-90) scale(0.9629,1)" font-size="14.35" font-weight="bold" fill="#000">% IFN<tspan font-family="Liberation Serif" font-style="italic" font-weight="normal">&#947;</tspan><tspan font-size="72%" dy="-0.52em">+</tspan><tspan dy="0.374em">TNF</tspan><tspan font-family="Liberation Serif" font-style="italic" font-weight="normal">&#945;</tspan><tspan font-size="72%" dy="-0.52em">+</tspan><tspan dy="0.374em"> cells</tspan></text>
<text transform="translate(187.33,506.68) scale(1.0123,1)" font-size="12.29" font-weight="bold" fill="#000">Boost</text>
<text transform="translate(228.30,453.69) scale(1.0786,1)" font-size="9.30" fill="#1e1e1e">a,b,d,e</text>
<text transform="translate(370.76,441.10) scale(0.9171,1)" font-size="31.74" font-weight="bold" fill="#000">E</text>
<text transform="translate(519.78,434.96) scale(0.9710,1)" font-size="23.80" font-weight="bold" fill="#000">CD4</text>
<text transform="translate(529.93,507.08) scale(1.0093,1)" font-size="12.29" font-weight="bold" fill="#000">Boost</text>
<text transform="translate(0.26,606.00) scale(0.9641,1)" font-size="31.74" font-weight="bold" fill="#000">F</text>
<text transform="translate(51.00,597.90) scale(1.0197,1)" font-size="9.86" font-weight="bold" fill="#000">0.15</text>
<text transform="translate(51.20,642.90) scale(1.0197,1)" font-size="9.86" font-weight="bold" fill="#000">0.10</text>
<text transform="translate(51.00,687.90) scale(1.0197,1)" font-size="9.86" font-weight="bold" fill="#000">0.05</text>
<text transform="translate(51.20,732.90) scale(1.0197,1)" font-size="9.86" font-weight="bold" fill="#000">0.00</text>
<text transform="translate(41.00,725.61) rotate(-90) scale(0.9938,1)" font-size="13.91" font-weight="bold" fill="#000">% IFN<tspan font-family="Liberation Serif" font-style="italic" font-weight="normal">&#947;</tspan><tspan font-size="72%" dy="-0.52em">+</tspan><tspan dy="0.374em">TNF</tspan><tspan font-family="Liberation Serif" font-style="italic" font-weight="normal">&#945;</tspan><tspan font-size="72%" dy="-0.52em">+</tspan><tspan dy="0.374em"> cells</tspan></text>
<text transform="translate(187.73,663.08) scale(1.0152,1)" font-size="12.29" font-weight="bold" fill="#000">Boost</text>
<text transform="translate(153.59,676.11) scale(1.1110,1)" font-size="9.19" fill="#1e1e1e">a,b,c,e</text>
<text transform="translate(367.19,606.38) scale(0.9388,1)" font-size="32.11" font-weight="bold" fill="#000">G</text>
<text transform="translate(531.52,663.38) scale(1.0065,1)" font-size="12.43" font-weight="bold" fill="#000">Boost</text>
<text transform="translate(0.26,773.90) scale(0.9615,1)" font-size="31.74" font-weight="bold" fill="#000">H</text>
<text transform="translate(49.72,788.58) scale(1.0186,1)" font-size="12.39" font-weight="bold" fill="#000">200</text>
<text transform="translate(49.72,822.38) scale(1.0186,1)" font-size="12.39" font-weight="bold" fill="#000">150</text>
<text transform="translate(49.72,856.08) scale(1.0186,1)" font-size="12.39" font-weight="bold" fill="#000">100</text>
<text transform="translate(56.79,889.78) scale(1.0186,1)" font-size="12.39" font-weight="bold" fill="#000">50</text>
<text transform="translate(63.86,923.58) scale(1.0186,1)" font-size="12.39" font-weight="bold" fill="#000">0</text>
<text transform="translate(43.90,906.86) rotate(-90) scale(0.9779,1)" font-size="14.06" font-weight="bold" fill="#000">IFN-<tspan font-family="Liberation Serif" font-style="italic" font-weight="normal">&#947;</tspan> S-C/10<tspan font-size="62%" dy="-0.75em">6</tspan><tspan dy="0.465em"> cells</tspan></text>
<text transform="translate(90.85,935.60) scale(0.9260,1)" font-size="12.75" font-weight="bold" fill="#000">0</text>
<text transform="translate(128.65,935.60) scale(0.9260,1)" font-size="12.75" font-weight="bold" fill="#000">7</text>
<text transform="translate(162.59,935.60) scale(0.9260,1)" font-size="12.75" font-weight="bold" fill="#000">14</text>
<text transform="translate(200.75,935.60) scale(0.9260,1)" font-size="12.75" font-weight="bold" fill="#000">21</text>
<text transform="translate(238.55,935.60) scale(0.9260,1)" font-size="12.75" font-weight="bold" fill="#000">28</text>
<text transform="translate(276.30,935.60) scale(0.9260,1)" font-size="12.75" font-weight="bold" fill="#000">35</text>
<text transform="translate(313.76,935.60) scale(0.9260,1)" font-size="12.75" font-weight="bold" fill="#000">42</text>
<text transform="translate(129.15,957.80) scale(1.0555,1)" font-size="12.90" font-weight="bold" fill="#000">Days post-immunisation</text>
<text transform="translate(187.33,797.08) scale(0.9948,1)" font-size="12.43" font-weight="bold" fill="#000">Boost</text>
<text transform="translate(229.30,830.45) scale(1.0396,1)" font-size="9.65" fill="#1e1e1e">a,b,d,e</text>
<text transform="translate(381.40,776.90) scale(1.0268,1)" font-size="34.78" font-weight="bold" fill="#000">I</text>
<text transform="translate(434.15,934.90) scale(0.9260,1)" font-size="12.75" font-weight="bold" fill="#000">0</text>
<text transform="translate(471.55,934.90) scale(0.9260,1)" font-size="12.75" font-weight="bold" fill="#000">7</text>
<text transform="translate(505.49,934.90) scale(0.9260,1)" font-size="12.75" font-weight="bold" fill="#000">14</text>
<text transform="translate(543.05,934.90) scale(0.9260,1)" font-size="12.75" font-weight="bold" fill="#000">21</text>
<text transform="translate(581.05,934.90) scale(0.9260,1)" font-size="12.75" font-weight="bold" fill="#000">28</text>
<text transform="translate(618.20,934.90) scale(0.9260,1)" font-size="12.75" font-weight="bold" fill="#000">35</text>
<text transform="translate(655.96,934.90) scale(0.9260,1)" font-size="12.75" font-weight="bold" fill="#000">42</text>
<text transform="translate(471.25,954.90) scale(1.0317,1)" font-size="13.19" font-weight="bold" fill="#000">Days post-immunisation</text>
<text transform="translate(531.83,797.88) scale(1.0212,1)" font-size="12.14" font-weight="bold" fill="#000">Boost</text>
</svg></body></html>
